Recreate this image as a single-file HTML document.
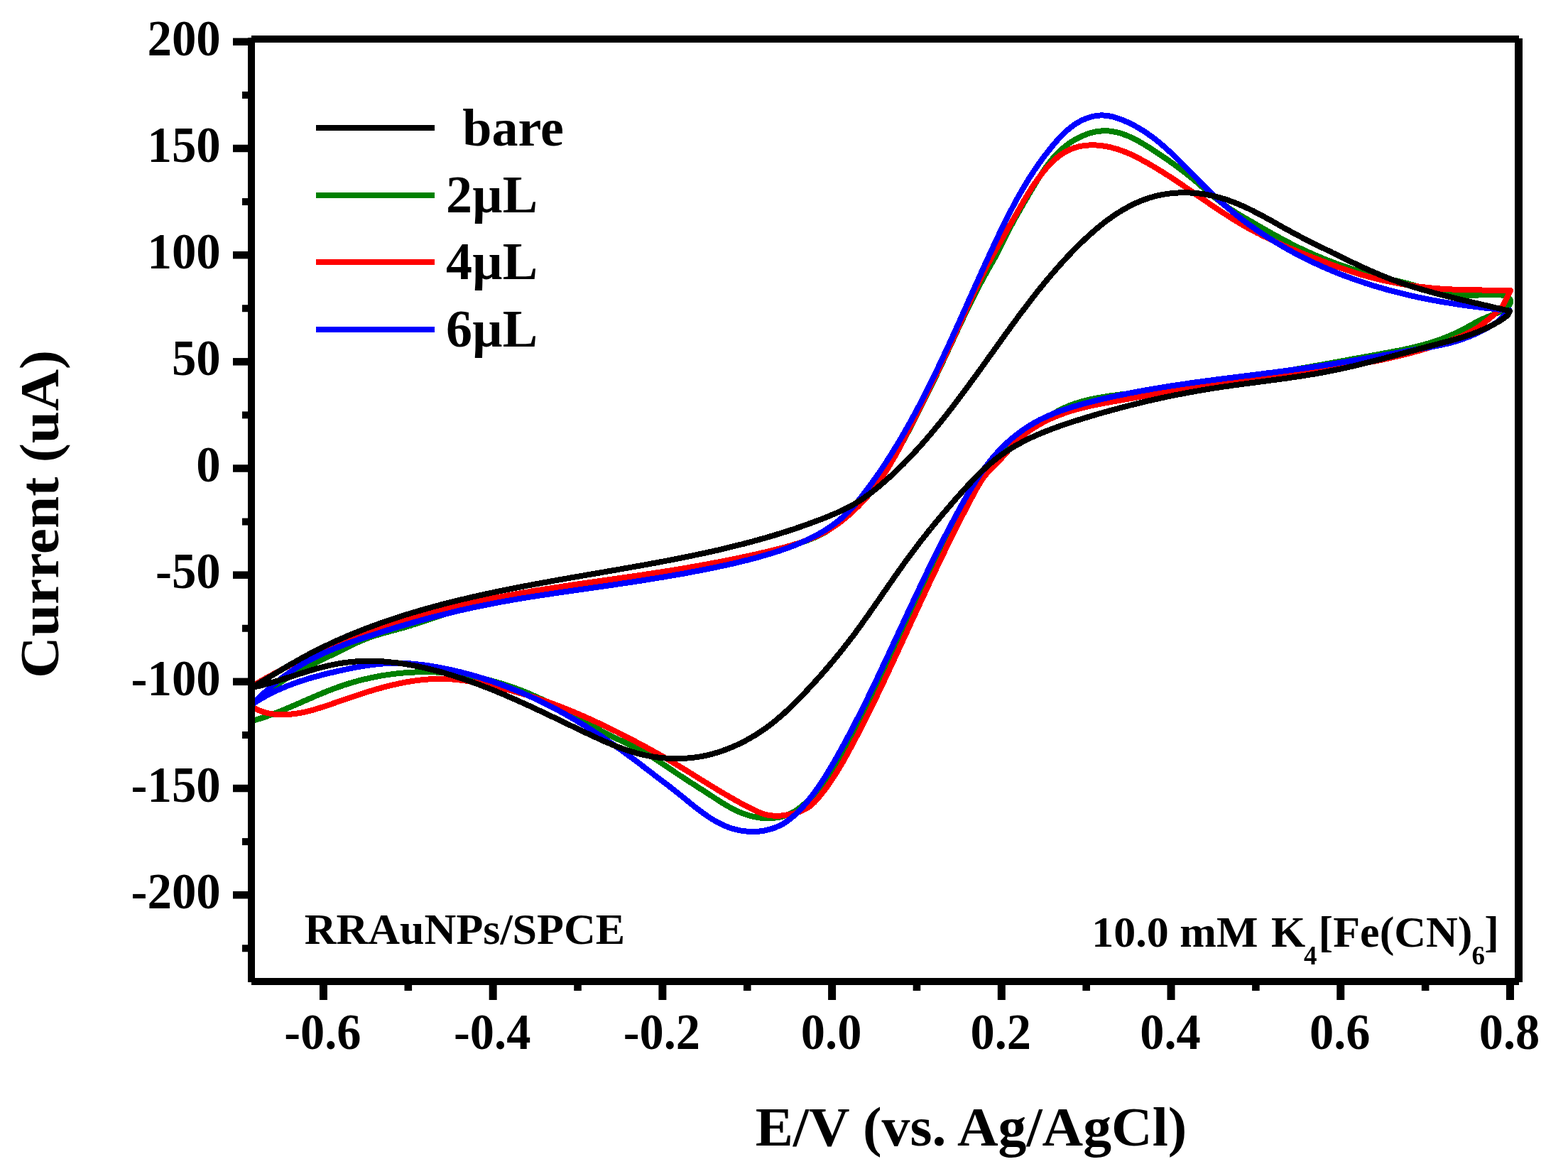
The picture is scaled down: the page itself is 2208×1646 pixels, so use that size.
<!DOCTYPE html>
<html><head><meta charset="utf-8"><title>CV plot</title>
<style>html,body{margin:0;padding:0;background:#fff;}svg{display:block;}</style>
</head><body>
<svg xmlns="http://www.w3.org/2000/svg" width="2208" height="1646" viewBox="0 0 2208 1646">
<rect x="0" y="0" width="2208" height="1646" fill="#fff"/>
<defs><clipPath id="pc"><rect x="354" y="55" width="1785" height="1327"/></clipPath></defs>
<g clip-path="url(#pc)" fill="none" stroke-width="8" stroke-linejoin="round" stroke-linecap="butt" shape-rendering="crispEdges">
<path d="M355.0,992.0L356.8,990.2L358.7,988.5L360.5,986.8L362.4,985.1L364.3,983.4L366.2,981.8L368.1,980.2L370.1,978.6L372.0,977.0L374.0,975.5L376.0,973.9L378.0,972.4L380.0,970.9L382.0,969.5L384.1,968.0L386.1,966.6L388.2,965.2L390.2,963.8L392.3,962.4L394.4,961.1L396.5,959.7L398.6,958.4L400.7,957.1L402.9,955.8L405.0,954.5L407.2,953.2L409.3,952.0L411.5,950.7L413.7,949.5L415.8,948.3L418.0,947.1L420.2,945.9L422.4,944.7L424.6,943.5L426.8,942.3L429.1,941.2L431.3,940.0L433.5,938.9L435.7,937.7L438.0,936.6L440.2,935.5L442.5,934.3L444.7,933.2L447.0,932.1L449.2,931.0L451.5,929.9L453.7,928.8L456.0,927.7L458.2,926.6L460.5,925.5L462.7,924.4L465.0,923.3L467.3,922.2L469.5,921.1L471.8,920.0L474.0,918.8L476.3,917.7L478.5,916.6L480.8,915.5L483.0,914.4L485.3,913.3L487.5,912.2L489.8,911.1L492.0,909.9L494.3,908.9L496.6,907.8L498.8,906.7L501.1,905.6L503.4,904.6L505.6,903.6L507.9,902.6L510.2,901.6L512.5,900.7L514.8,899.7L517.2,898.8L519.5,897.9L521.8,897.1L524.2,896.3L526.5,895.5L528.9,894.7L531.3,894.0L533.7,893.3L536.1,892.6L538.5,891.9L540.9,891.2L543.3,890.6L545.7,889.9L548.1,889.3L550.5,888.6L553.0,888.0L555.4,887.3L557.8,886.7L560.2,886.0L562.6,885.3L565.0,884.7L567.5,884.0L569.9,883.2L572.3,882.5L574.7,881.8L577.1,881.1L579.5,880.3L581.8,879.5L584.2,878.8L586.6,878.0L589.0,877.2L591.4,876.4L593.8,875.6L596.2,874.9L598.5,874.1L600.9,873.3L603.3,872.5L605.7,871.7L608.1,870.9L610.5,870.1L612.8,869.3L615.2,868.5L617.6,867.7L620.0,866.9L622.4,866.1L624.7,865.3L627.1,864.5L629.5,863.8L631.9,863.0L634.3,862.3L636.7,861.5L639.1,860.8L641.5,860.0L643.9,859.3L646.3,858.6L648.7,857.9L651.1,857.3L653.5,856.6L655.9,855.9L658.3,855.3L660.8,854.6L663.2,854.0L665.6,853.4L668.0,852.7L670.4,852.1L672.9,851.5L675.3,850.9L677.7,850.4L680.2,849.8L682.6,849.2L685.0,848.7L687.5,848.1L689.9,847.6L692.4,847.0L694.8,846.5L697.2,846.0L699.7,845.5L702.1,845.0L704.6,844.5L707.0,844.0L709.5,843.5L711.9,843.0L714.4,842.5L716.9,842.1L719.3,841.6L721.8,841.1L724.2,840.7L726.7,840.2L729.2,839.8L731.6,839.4L734.1,838.9L736.6,838.5L739.0,838.1L741.5,837.7L744.0,837.2L746.4,836.8L748.9,836.4L751.4,836.0L753.8,835.6L756.3,835.2L758.8,834.8L761.3,834.5L763.7,834.1L766.2,833.7L768.7,833.3L771.2,832.9L773.7,832.6L776.1,832.2L778.6,831.8L781.1,831.4L783.6,831.1L786.0,830.7L788.5,830.3L791.0,830.0L793.5,829.6L796.0,829.3L798.4,828.9L800.9,828.5L803.4,828.2L805.9,827.8L808.4,827.5L810.8,827.1L813.3,826.8L815.8,826.4L818.3,826.1L820.8,825.7L823.2,825.3L825.7,825.0L828.2,824.6L830.7,824.3L833.2,823.9L835.7,823.6L838.1,823.2L840.6,822.9L843.1,822.5L845.6,822.2L848.1,821.8L850.5,821.4L853.0,821.1L855.5,820.7L858.0,820.4L860.5,820.0L862.9,819.7L865.4,819.3L867.9,818.9L870.4,818.6L872.8,818.2L875.3,817.9L877.8,817.5L880.3,817.1L882.8,816.8L885.2,816.4L887.7,816.1L890.2,815.7L892.7,815.3L895.1,814.9L897.6,814.6L900.1,814.2L902.6,813.8L905.0,813.5L907.5,813.1L910.0,812.7L912.5,812.3L914.9,812.0L917.4,811.6L919.9,811.2L922.4,810.8L924.8,810.4L927.3,810.0L929.8,809.6L932.3,809.2L934.7,808.9L937.2,808.5L939.7,808.1L942.1,807.7L944.6,807.3L947.1,806.8L949.6,806.4L952.0,806.0L954.5,805.6L957.0,805.2L959.4,804.8L961.9,804.4L964.4,804.0L966.8,803.5L969.3,803.1L971.8,802.7L974.2,802.2L976.7,801.8L979.1,801.4L981.6,800.9L984.1,800.5L986.5,800.0L989.0,799.6L991.4,799.1L993.9,798.7L996.4,798.2L998.8,797.7L1001.3,797.3L1003.7,796.8L1006.2,796.3L1008.6,795.8L1011.1,795.3L1013.5,794.8L1016.0,794.3L1018.4,793.8L1020.9,793.3L1023.3,792.8L1025.8,792.3L1028.2,791.8L1030.7,791.2L1033.1,790.7L1035.6,790.1L1038.0,789.6L1040.5,789.0L1042.9,788.5L1045.3,787.9L1047.8,787.3L1050.2,786.8L1052.6,786.2L1055.1,785.6L1057.5,785.0L1059.9,784.4L1062.4,783.8L1064.8,783.2L1067.2,782.5L1069.6,781.9L1072.1,781.3L1074.5,780.6L1076.9,780.0L1079.3,779.3L1081.7,778.6L1084.2,778.0L1086.6,777.3L1089.0,776.6L1091.4,775.9L1093.8,775.2L1096.2,774.4L1098.6,773.7L1101.0,773.0L1103.4,772.2L1105.8,771.5L1108.2,770.7L1110.6,770.0L1113.0,769.2L1115.4,768.4L1117.8,767.6L1120.2,766.8L1122.6,766.0L1125.0,765.1L1127.3,764.3L1129.7,763.5L1132.1,762.6L1134.5,761.7L1136.9,760.9L1139.2,760.0L1141.6,759.1L1143.9,758.1L1146.3,757.2L1148.6,756.2L1150.9,755.2L1153.2,754.1L1155.4,753.0L1157.6,751.9L1159.8,750.7L1162.0,749.5L1164.1,748.2L1166.1,746.8L1168.2,745.4L1170.2,744.0L1172.1,742.5L1174.0,740.9L1175.8,739.2L1177.7,737.6L1179.5,735.8L1181.3,734.1L1183.0,732.3L1184.8,730.6L1186.6,728.8L1188.3,727.0L1190.1,725.2L1191.9,723.5L1193.7,721.7L1195.6,719.9L1197.4,718.2L1199.2,716.4L1201.0,714.7L1202.8,712.9L1204.7,711.2L1206.5,709.4L1208.3,707.6L1210.1,705.9L1211.9,704.1L1213.7,702.3L1215.5,700.5L1217.2,698.7L1219.0,696.9L1220.7,695.1L1222.4,693.2L1224.1,691.4L1225.8,689.5L1227.4,687.6L1229.1,685.7L1230.7,683.8L1232.3,681.9L1233.9,680.0L1235.4,678.0L1236.9,676.0L1238.5,674.0L1240.0,672.1L1241.4,670.0L1242.9,668.0L1244.3,666.0L1245.8,664.0L1247.2,661.9L1248.6,659.8L1250.0,657.8L1251.3,655.7L1252.7,653.6L1254.0,651.5L1255.4,649.4L1256.7,647.3L1258.0,645.1L1259.3,643.0L1260.6,640.8L1261.8,638.7L1263.1,636.5L1264.4,634.4L1265.6,632.2L1266.8,630.0L1268.1,627.8L1269.3,625.7L1270.5,623.5L1271.7,621.3L1272.9,619.1L1274.1,616.9L1275.2,614.6L1276.4,612.4L1277.6,610.2L1278.8,608.0L1279.9,605.8L1281.1,603.6L1282.2,601.3L1283.4,599.1L1284.5,596.9L1285.7,594.7L1286.8,592.4L1288.0,590.2L1289.1,588.0L1290.3,585.7L1291.4,583.5L1292.5,581.3L1293.7,579.0L1294.8,576.8L1295.9,574.6L1297.1,572.3L1298.2,570.1L1299.3,567.9L1300.4,565.6L1301.5,563.4L1302.7,561.1L1303.8,558.9L1304.9,556.6L1306.0,554.4L1307.1,552.2L1308.2,549.9L1309.3,547.7L1310.4,545.4L1311.5,543.2L1312.6,540.9L1313.7,538.7L1314.8,536.4L1315.9,534.1L1317.0,531.9L1318.0,529.6L1319.1,527.4L1320.2,525.1L1321.3,522.9L1322.4,520.6L1323.4,518.3L1324.5,516.1L1325.6,513.8L1326.6,511.5L1327.7,509.3L1328.8,507.0L1329.8,504.7L1330.9,502.5L1332.0,500.2L1333.0,497.9L1334.1,495.6L1335.1,493.4L1336.2,491.1L1337.2,488.8L1338.3,486.6L1339.4,484.3L1340.4,482.0L1341.5,479.7L1342.5,477.5L1343.6,475.2L1344.6,472.9L1345.7,470.6L1346.7,468.4L1347.8,466.1L1348.9,463.8L1349.9,461.6L1351.0,459.3L1352.1,457.0L1353.1,454.7L1354.2,452.5L1355.3,450.2L1356.3,448.0L1357.4,445.7L1358.5,443.4L1359.6,441.2L1360.7,438.9L1361.7,436.7L1362.8,434.4L1363.9,432.2L1365.0,429.9L1366.1,427.7L1367.2,425.4L1368.4,423.2L1369.5,420.9L1370.6,418.7L1371.7,416.5L1372.8,414.2L1374.0,412.0L1375.1,409.8L1376.3,407.6L1377.4,405.3L1378.6,403.1L1379.7,400.9L1380.9,398.7L1382.1,396.5L1383.3,394.3L1384.4,392.1L1385.6,389.9L1386.8,387.7L1388.1,385.5L1389.3,383.3L1390.5,381.2L1391.7,379.0L1393.0,376.8L1394.2,374.7L1395.5,372.5L1396.7,370.3L1397.9,368.2L1399.2,366.0L1400.4,363.8L1401.6,361.6L1402.7,359.4L1403.9,357.2L1405.0,355.0L1406.1,352.8L1407.2,350.5L1408.3,348.3L1409.4,346.1L1410.5,343.8L1411.6,341.6L1412.7,339.3L1413.8,337.1L1414.9,334.9L1416.0,332.6L1417.2,330.4L1418.3,328.2L1419.5,326.0L1420.6,323.8L1421.8,321.6L1423.0,319.3L1424.2,317.1L1425.4,314.9L1426.6,312.7L1427.8,310.5L1429.0,308.3L1430.2,306.1L1431.4,303.9L1432.7,301.8L1433.9,299.6L1435.1,297.4L1436.4,295.2L1437.6,293.0L1438.9,290.8L1440.2,288.7L1441.4,286.5L1442.7,284.3L1443.9,282.1L1445.2,280.0L1446.5,277.8L1447.8,275.6L1449.0,273.4L1450.3,271.3L1451.6,269.1L1452.9,267.0L1454.2,264.8L1455.5,262.6L1456.8,260.5L1458.1,258.3L1459.4,256.2L1460.7,254.0L1462.0,251.9L1463.3,249.8L1464.7,247.7L1466.0,245.6L1467.4,243.5L1468.8,241.4L1470.2,239.4L1471.6,237.3L1473.0,235.3L1474.5,233.3L1476.0,231.3L1477.5,229.3L1479.0,227.4L1480.5,225.5L1482.1,223.6L1483.7,221.7L1485.4,219.9L1487.1,218.1L1488.8,216.3L1490.5,214.5L1492.3,212.8L1494.1,211.1L1495.9,209.5L1497.8,207.8L1499.8,206.2L1501.7,204.7L1503.7,203.2L1505.8,201.7L1507.9,200.3L1510.1,198.9L1512.3,197.5L1514.5,196.2L1516.8,195.0L1519.1,193.8L1521.4,192.7L1523.8,191.6L1526.2,190.6L1528.6,189.6L1531.0,188.7L1533.4,187.9L1535.9,187.2L1538.4,186.5L1540.8,186.0L1543.3,185.4L1545.8,185.0L1548.2,184.7L1550.7,184.5L1553.2,184.3L1555.6,184.3L1558.1,184.3L1560.5,184.4L1562.9,184.6L1565.3,184.9L1567.7,185.3L1570.1,185.8L1572.5,186.3L1574.8,186.9L1577.2,187.5L1579.5,188.2L1581.8,189.0L1584.2,189.9L1586.5,190.8L1588.8,191.7L1591.1,192.7L1593.4,193.7L1595.6,194.8L1597.9,196.0L1600.1,197.1L1602.4,198.3L1604.6,199.6L1606.8,200.8L1609.0,202.1L1611.2,203.4L1613.4,204.7L1615.6,206.1L1617.8,207.5L1619.9,208.8L1622.1,210.2L1624.2,211.6L1626.3,213.0L1628.4,214.4L1630.6,215.8L1632.7,217.2L1634.7,218.6L1636.8,220.0L1638.9,221.4L1640.9,222.8L1643.0,224.2L1645.0,225.6L1647.1,227.1L1649.1,228.5L1651.1,229.9L1653.1,231.4L1655.1,232.8L1657.1,234.3L1659.1,235.7L1661.1,237.2L1663.1,238.7L1665.0,240.2L1667.0,241.7L1668.9,243.2L1670.9,244.8L1672.8,246.3L1674.8,247.9L1676.7,249.4L1678.6,251.0L1680.5,252.6L1682.4,254.2L1684.4,255.8L1686.3,257.5L1688.2,259.1L1690.1,260.7L1692.0,262.4L1693.9,264.0L1695.8,265.6L1697.7,267.3L1699.6,268.9L1701.6,270.5L1703.5,272.2L1705.4,273.8L1707.4,275.4L1709.3,277.0L1711.2,278.6L1713.2,280.2L1715.2,281.7L1717.2,283.3L1719.2,284.8L1721.2,286.3L1723.2,287.8L1725.2,289.3L1727.3,290.7L1729.3,292.2L1731.4,293.6L1733.5,295.0L1735.6,296.3L1737.7,297.7L1739.8,299.0L1741.9,300.3L1744.1,301.6L1746.2,302.9L1748.4,304.1L1750.5,305.4L1752.7,306.7L1754.9,307.9L1757.0,309.2L1759.2,310.4L1761.4,311.7L1763.5,312.9L1765.7,314.2L1767.8,315.4L1770.0,316.7L1772.2,317.9L1774.3,319.2L1776.5,320.4L1778.7,321.7L1780.8,322.9L1783.0,324.1L1785.2,325.4L1787.3,326.6L1789.5,327.8L1791.7,329.1L1793.9,330.3L1796.0,331.5L1798.2,332.7L1800.4,333.9L1802.6,335.1L1804.8,336.3L1807.0,337.5L1809.2,338.6L1811.4,339.8L1813.6,341.0L1815.8,342.1L1818.0,343.3L1820.3,344.4L1822.5,345.5L1824.8,346.7L1827.0,347.8L1829.3,348.9L1831.5,349.9L1833.8,351.0L1836.0,352.1L1838.3,353.1L1840.6,354.2L1842.9,355.2L1845.2,356.3L1847.5,357.3L1849.8,358.3L1852.1,359.3L1854.4,360.3L1856.7,361.3L1859.0,362.2L1861.3,363.2L1863.7,364.1L1866.0,365.1L1868.3,366.0L1870.7,366.9L1873.0,367.8L1875.3,368.7L1877.7,369.6L1880.0,370.5L1882.4,371.4L1884.8,372.2L1887.1,373.1L1889.5,373.9L1891.8,374.7L1894.2,375.6L1896.6,376.4L1899.0,377.2L1901.3,377.9L1903.7,378.7L1906.1,379.5L1908.5,380.2L1910.9,381.0L1913.3,381.7L1915.7,382.4L1918.0,383.1L1920.4,383.8L1922.8,384.5L1925.2,385.2L1927.6,385.9L1930.0,386.5L1932.4,387.2L1934.8,387.8L1937.2,388.4L1939.6,389.0L1942.0,389.6L1944.5,390.2L1946.9,390.8L1949.3,391.4L1951.7,391.9L1954.1,392.5L1956.5,393.1L1958.9,393.6L1961.3,394.2L1963.8,394.8L1966.2,395.3L1968.6,395.9L1971.1,396.5L1973.5,397.1L1975.9,397.7L1978.4,398.3L1980.8,398.9L1983.3,399.6L1985.7,400.2L1988.2,400.9L1990.7,401.6L1993.1,402.3L1995.6,403.0L1998.1,403.7L2000.5,404.4L2003.0,405.1L2005.4,405.8L2007.9,406.5L2010.3,407.2L2012.7,407.8L2015.1,408.4L2017.5,409.0L2019.9,409.6L2022.3,410.2L2024.6,410.7L2027.0,411.2L2029.4,411.7L2031.8,412.2L2034.2,412.6L2036.6,413.1L2039.0,413.5L2041.4,413.8L2043.8,414.2L2046.2,414.5L2048.7,414.8L2051.1,415.0L2053.6,415.2L2056.1,415.4L2058.6,415.6L2061.1,415.7L2063.7,415.8L2066.2,415.9L2068.9,415.9L2071.5,415.9L2074.1,415.9L2076.8,415.8L2079.6,415.7L2082.3,415.5L2085.1,415.4L2087.8,415.2L2090.6,415.0L2093.4,414.9L2096.1,414.7L2098.8,414.6L2101.5,414.6L2104.1,414.6L2106.6,414.7L2109.1,414.8L2111.4,415.0L2113.7,415.4L2115.9,415.8L2118.0,416.4L2119.9,417.1L2121.7,417.9L2123.4,418.9L2124.9,420.1L2126.1,421.5L2126.9,423.2L2127.0,425.5L2126.1,428.3L2124.0,432.0L2118.0,436.0L2115.8,437.2L2113.6,438.4L2111.3,439.4L2109.0,440.5L2106.7,441.5L2104.4,442.4L2102.1,443.3L2099.8,444.3L2097.5,445.2L2095.1,446.1L2092.8,447.0L2090.5,448.0L2088.3,449.0L2086.0,450.0L2083.8,451.1L2081.6,452.2L2079.4,453.4L2077.2,454.5L2075.0,455.8L2072.8,457.0L2070.6,458.2L2068.5,459.4L2066.3,460.6L2064.0,461.8L2061.8,463.0L2059.6,464.1L2057.4,465.3L2055.1,466.4L2052.9,467.5L2050.6,468.6L2048.3,469.7L2046.0,470.7L2043.8,471.7L2041.5,472.7L2039.1,473.7L2036.8,474.7L2034.5,475.6L2032.2,476.5L2029.8,477.4L2027.5,478.2L2025.1,479.1L2022.8,479.9L2020.4,480.7L2018.1,481.4L2015.7,482.2L2013.3,482.9L2010.9,483.6L2008.5,484.3L2006.1,485.0L2003.7,485.7L2001.3,486.3L1998.9,487.0L1996.5,487.6L1994.0,488.2L1991.6,488.8L1989.2,489.3L1986.7,489.9L1984.3,490.5L1981.8,491.0L1979.4,491.5L1977.0,492.1L1974.5,492.6L1972.0,493.1L1969.6,493.6L1967.1,494.1L1964.7,494.5L1962.2,495.0L1959.7,495.5L1957.3,496.0L1954.8,496.4L1952.3,496.9L1949.9,497.3L1947.4,497.8L1944.9,498.2L1942.4,498.7L1940.0,499.1L1937.5,499.6L1935.0,500.0L1932.6,500.5L1930.1,500.9L1927.6,501.4L1925.1,501.8L1922.7,502.3L1920.2,502.7L1917.7,503.2L1915.3,503.6L1912.8,504.1L1910.3,504.5L1907.9,505.0L1905.4,505.4L1902.9,505.9L1900.5,506.3L1898.0,506.8L1895.5,507.2L1893.0,507.7L1890.6,508.1L1888.1,508.6L1885.6,509.0L1883.2,509.5L1880.7,509.9L1878.2,510.4L1875.8,510.8L1873.3,511.3L1870.8,511.7L1868.4,512.2L1865.9,512.6L1863.4,513.0L1861.0,513.5L1858.5,513.9L1856.0,514.4L1853.6,514.8L1851.1,515.2L1848.6,515.7L1846.2,516.1L1843.7,516.6L1841.2,517.0L1838.8,517.4L1836.3,517.9L1833.8,518.3L1831.3,518.7L1828.9,519.1L1826.4,519.6L1823.9,520.0L1821.5,520.4L1819.0,520.9L1816.5,521.3L1814.1,521.7L1811.6,522.1L1809.1,522.6L1806.7,523.0L1804.2,523.4L1801.7,523.8L1799.3,524.2L1796.8,524.6L1794.3,525.0L1791.8,525.5L1789.4,525.9L1786.9,526.3L1784.4,526.7L1782.0,527.1L1779.5,527.5L1777.0,527.9L1774.6,528.3L1772.1,528.7L1769.6,529.1L1767.1,529.5L1764.7,529.9L1762.2,530.3L1759.7,530.7L1757.3,531.0L1754.8,531.4L1752.3,531.8L1749.8,532.2L1747.4,532.6L1744.9,533.0L1742.4,533.3L1740.0,533.7L1737.5,534.1L1735.0,534.5L1732.5,534.8L1730.1,535.2L1727.6,535.6L1725.1,535.9L1722.6,536.3L1720.2,536.6L1717.7,537.0L1715.2,537.3L1712.7,537.7L1710.3,538.1L1707.8,538.4L1705.3,538.7L1702.8,539.1L1700.3,539.4L1697.9,539.8L1695.4,540.1L1692.9,540.5L1690.4,540.8L1687.9,541.2L1685.5,541.5L1683.0,541.8L1680.5,542.2L1678.0,542.5L1675.5,542.8L1673.1,543.2L1670.6,543.5L1668.1,543.8L1665.6,544.2L1663.1,544.5L1660.7,544.8L1658.2,545.1L1655.7,545.5L1653.2,545.8L1650.7,546.1L1648.2,546.4L1645.7,546.8L1643.3,547.1L1640.8,547.4L1638.3,547.7L1635.8,548.0L1633.3,548.4L1630.8,548.7L1628.3,549.0L1625.8,549.3L1623.4,549.7L1620.9,550.0L1618.4,550.3L1615.9,550.6L1613.4,550.9L1610.9,551.3L1608.4,551.6L1605.9,551.9L1603.4,552.2L1600.9,552.5L1598.4,552.9L1596.0,553.2L1593.5,553.5L1591.0,553.8L1588.5,554.1L1586.0,554.5L1583.5,554.8L1581.0,555.1L1578.5,555.4L1576.0,555.7L1573.5,556.1L1571.0,556.4L1568.5,556.7L1566.0,557.1L1563.5,557.4L1561.0,557.8L1558.5,558.2L1556.1,558.5L1553.6,558.9L1551.1,559.3L1548.6,559.8L1546.2,560.2L1543.7,560.7L1541.3,561.1L1538.8,561.6L1536.4,562.1L1533.9,562.7L1531.5,563.2L1529.1,563.8L1526.7,564.4L1524.3,565.1L1521.9,565.7L1519.5,566.4L1517.2,567.2L1514.8,567.9L1512.5,568.7L1510.1,569.6L1507.8,570.4L1505.5,571.3L1503.2,572.3L1500.9,573.3L1498.7,574.3L1496.4,575.4L1494.2,576.5L1491.9,577.6L1489.7,578.8L1487.5,580.0L1485.3,581.2L1483.1,582.4L1481.0,583.7L1478.8,585.0L1476.6,586.3L1474.5,587.7L1472.3,589.0L1470.2,590.4L1468.0,591.7L1465.9,593.1L1463.8,594.4L1461.6,595.8L1459.5,597.2L1457.4,598.6L1455.2,600.0L1453.1,601.4L1451.0,602.8L1448.9,604.2L1446.8,605.6L1444.8,607.0L1442.7,608.5L1440.7,610.0L1438.6,611.4L1436.6,612.9L1434.6,614.5L1432.6,616.0L1430.7,617.5L1428.7,619.1L1426.8,620.7L1424.9,622.4L1423.1,624.0L1421.2,625.7L1419.4,627.4L1417.6,629.1L1415.8,630.8L1414.0,632.6L1412.3,634.4L1410.6,636.1L1408.9,638.0L1407.2,639.8L1405.5,641.6L1403.8,643.5L1402.2,645.4L1400.6,647.3L1399.0,649.2L1397.4,651.1L1395.8,653.1L1394.3,655.1L1392.8,657.0L1391.2,659.0L1389.7,661.0L1388.2,663.0L1386.8,665.1L1385.3,667.1L1383.9,669.1L1382.4,671.2L1381.0,673.3L1379.6,675.4L1378.2,677.4L1376.8,679.5L1375.4,681.6L1374.1,683.8L1372.7,685.9L1371.4,688.0L1370.1,690.1L1368.7,692.3L1367.4,694.4L1366.1,696.6L1364.8,698.7L1363.6,700.9L1362.3,703.1L1361.0,705.2L1359.8,707.4L1358.5,709.6L1357.3,711.7L1356.0,713.9L1354.8,716.1L1353.6,718.3L1352.4,720.5L1351.2,722.7L1350.0,724.9L1348.8,727.1L1347.6,729.3L1346.4,731.5L1345.3,733.7L1344.1,735.9L1343.0,738.2L1341.8,740.4L1340.7,742.6L1339.5,744.8L1338.4,747.1L1337.3,749.3L1336.1,751.5L1335.0,753.8L1333.9,756.0L1332.8,758.3L1331.7,760.5L1330.6,762.7L1329.5,765.0L1328.4,767.2L1327.3,769.5L1326.2,771.8L1325.2,774.0L1324.1,776.3L1323.0,778.5L1322.0,780.8L1320.9,783.1L1319.8,785.3L1318.8,787.6L1317.7,789.9L1316.7,792.1L1315.6,794.4L1314.6,796.7L1313.5,799.0L1312.5,801.2L1311.4,803.5L1310.4,805.8L1309.4,808.1L1308.3,810.4L1307.3,812.6L1306.3,814.9L1305.2,817.2L1304.2,819.5L1303.2,821.8L1302.1,824.1L1301.1,826.3L1300.1,828.6L1299.0,830.9L1298.0,833.2L1297.0,835.5L1295.9,837.8L1294.9,840.0L1293.9,842.3L1292.8,844.6L1291.8,846.9L1290.8,849.2L1289.7,851.5L1288.7,853.8L1287.7,856.0L1286.6,858.3L1285.6,860.6L1284.6,862.9L1283.5,865.2L1282.5,867.5L1281.4,869.7L1280.4,872.0L1279.4,874.3L1278.3,876.6L1277.3,878.9L1276.2,881.1L1275.2,883.4L1274.1,885.7L1273.1,888.0L1272.0,890.3L1271.0,892.5L1269.9,894.8L1268.9,897.1L1267.8,899.4L1266.8,901.7L1265.7,903.9L1264.7,906.2L1263.6,908.5L1262.6,910.8L1261.5,913.0L1260.4,915.3L1259.4,917.6L1258.3,919.9L1257.2,922.1L1256.2,924.4L1255.1,926.7L1254.0,928.9L1253.0,931.2L1251.9,933.5L1250.8,935.7L1249.7,938.0L1248.7,940.3L1247.6,942.5L1246.5,944.8L1245.4,947.0L1244.3,949.3L1243.2,951.6L1242.1,953.8L1241.1,956.1L1240.0,958.3L1238.9,960.6L1237.8,962.8L1236.7,965.1L1235.6,967.3L1234.5,969.6L1233.4,971.8L1232.3,974.1L1231.1,976.3L1230.0,978.6L1228.9,980.8L1227.8,983.1L1226.7,985.3L1225.6,987.6L1224.4,989.8L1223.3,992.0L1222.2,994.3L1221.1,996.5L1219.9,998.7L1218.8,1001.0L1217.7,1003.2L1216.5,1005.4L1215.4,1007.7L1214.2,1009.9L1213.1,1012.1L1212.0,1014.3L1210.8,1016.5L1209.7,1018.8L1208.5,1021.0L1207.3,1023.2L1206.2,1025.4L1205.0,1027.6L1203.9,1029.8L1202.7,1032.1L1201.5,1034.3L1200.3,1036.5L1199.2,1038.7L1198.0,1040.9L1196.8,1043.1L1195.6,1045.3L1194.4,1047.4L1193.2,1049.6L1192.0,1051.8L1190.7,1054.0L1189.5,1056.2L1188.3,1058.3L1187.0,1060.5L1185.8,1062.6L1184.5,1064.8L1183.2,1066.9L1182.0,1069.1L1180.7,1071.2L1179.3,1073.3L1178.0,1075.4L1176.7,1077.5L1175.4,1079.6L1174.0,1081.7L1172.6,1083.8L1171.2,1085.9L1169.8,1088.0L1168.4,1090.0L1167.0,1092.1L1165.5,1094.1L1164.1,1096.1L1162.6,1098.1L1161.1,1100.2L1159.6,1102.1L1158.0,1104.1L1156.5,1106.1L1154.9,1108.1L1153.3,1110.0L1151.7,1111.9L1150.1,1113.9L1148.4,1115.8L1146.8,1117.7L1145.1,1119.5L1143.3,1121.4L1141.6,1123.3L1139.8,1125.1L1138.0,1126.9L1136.2,1128.7L1134.4,1130.4L1132.5,1132.2L1130.6,1133.8L1128.7,1135.4L1126.7,1137.0L1124.7,1138.5L1122.7,1140.0L1120.6,1141.3L1118.5,1142.6L1116.4,1143.9L1114.2,1145.0L1112.0,1146.1L1109.7,1147.0L1107.4,1147.9L1105.1,1148.7L1102.7,1149.4L1100.4,1150.0L1097.9,1150.6L1095.5,1151.0L1093.1,1151.4L1090.6,1151.7L1088.1,1152.0L1085.6,1152.1L1083.1,1152.2L1080.6,1152.2L1078.1,1152.1L1075.6,1152.0L1073.1,1151.8L1070.5,1151.5L1068.0,1151.1L1065.5,1150.7L1063.1,1150.3L1060.6,1149.7L1058.2,1149.1L1055.7,1148.5L1053.3,1147.8L1050.9,1147.0L1048.6,1146.2L1046.2,1145.3L1043.9,1144.4L1041.6,1143.5L1039.3,1142.5L1037.1,1141.4L1034.8,1140.3L1032.6,1139.2L1030.4,1138.1L1028.2,1136.9L1026.0,1135.7L1023.8,1134.4L1021.6,1133.2L1019.5,1131.9L1017.3,1130.6L1015.2,1129.2L1013.0,1127.9L1010.9,1126.5L1008.8,1125.2L1006.7,1123.8L1004.6,1122.4L1002.5,1121.0L1000.4,1119.7L998.3,1118.3L996.2,1116.9L994.0,1115.5L991.9,1114.2L989.8,1112.8L987.7,1111.4L985.6,1110.1L983.5,1108.8L981.4,1107.4L979.3,1106.1L977.2,1104.7L975.1,1103.4L973.0,1102.0L970.9,1100.7L968.8,1099.3L966.7,1098.0L964.6,1096.6L962.5,1095.3L960.4,1093.9L958.3,1092.5L956.2,1091.2L954.2,1089.8L952.1,1088.4L950.0,1087.0L948.0,1085.6L945.9,1084.2L943.8,1082.7L941.7,1081.3L939.7,1079.9L937.6,1078.5L935.5,1077.1L933.5,1075.7L931.4,1074.3L929.3,1072.9L927.2,1071.5L925.1,1070.1L923.0,1068.7L920.9,1067.4L918.8,1066.1L916.6,1064.7L914.5,1063.4L912.3,1062.2L910.2,1060.9L908.0,1059.7L905.8,1058.4L903.6,1057.2L901.4,1056.1L899.2,1054.9L896.9,1053.8L894.7,1052.6L892.5,1051.5L890.2,1050.4L887.9,1049.3L885.7,1048.3L883.4,1047.2L881.2,1046.1L878.9,1045.0L876.6,1044.0L874.4,1042.9L872.1,1041.8L869.8,1040.7L867.6,1039.6L865.3,1038.5L863.0,1037.4L860.8,1036.3L858.6,1035.2L856.3,1034.1L854.1,1032.9L851.9,1031.8L849.6,1030.6L847.4,1029.5L845.2,1028.3L843.0,1027.1L840.8,1026.0L838.6,1024.8L836.4,1023.6L834.2,1022.4L832.0,1021.2L829.8,1020.0L827.6,1018.8L825.4,1017.6L823.2,1016.4L821.0,1015.2L818.8,1014.0L816.6,1012.8L814.4,1011.6L812.2,1010.4L810.0,1009.2L807.8,1008.0L805.6,1006.8L803.4,1005.6L801.2,1004.4L799.0,1003.2L796.8,1002.0L794.6,1000.8L792.4,999.6L790.2,998.4L788.0,997.3L785.8,996.1L783.6,995.0L781.4,993.8L779.2,992.7L776.9,991.5L774.7,990.4L772.5,989.3L770.2,988.2L768.0,987.1L765.7,986.0L763.5,984.9L761.2,983.8L759.0,982.8L756.7,981.7L754.4,980.7L752.1,979.7L749.8,978.7L747.5,977.7L745.2,976.7L742.9,975.7L740.6,974.8L738.3,973.8L735.9,972.9L733.6,972.0L731.3,971.1L728.9,970.2L726.6,969.4L724.2,968.5L721.8,967.7L719.5,966.9L717.1,966.0L714.7,965.3L712.3,964.5L709.9,963.7L707.5,963.0L705.1,962.2L702.7,961.5L700.3,960.8L697.9,960.1L695.5,959.4L693.1,958.8L690.6,958.1L688.2,957.5L685.8,956.9L683.3,956.3L680.9,955.7L678.5,955.2L676.0,954.6L673.6,954.1L671.1,953.6L668.6,953.1L666.2,952.6L663.7,952.1L661.2,951.7L658.8,951.3L656.3,950.9L653.8,950.5L651.4,950.1L648.9,949.7L646.4,949.4L643.9,949.1L641.4,948.7L638.9,948.5L636.5,948.2L634.0,947.9L631.5,947.7L629.0,947.5L626.5,947.3L624.0,947.1L621.5,946.9L619.0,946.8L616.5,946.6L614.0,946.5L611.5,946.4L609.0,946.3L606.5,946.3L604.0,946.2L601.5,946.2L599.0,946.2L596.5,946.2L594.0,946.2L591.5,946.3L589.0,946.3L586.5,946.4L584.0,946.5L581.5,946.6L579.0,946.7L576.5,946.9L574.0,947.0L571.5,947.2L569.0,947.4L566.6,947.6L564.1,947.9L561.6,948.1L559.1,948.4L556.6,948.7L554.1,949.0L551.6,949.3L549.2,949.6L546.7,950.0L544.2,950.3L541.7,950.7L539.3,951.1L536.8,951.5L534.3,952.0L531.9,952.4L529.4,952.9L527.0,953.4L524.5,953.9L522.1,954.4L519.6,954.9L517.2,955.5L514.7,956.0L512.3,956.6L509.9,957.2L507.5,957.8L505.0,958.5L502.6,959.1L500.2,959.8L497.8,960.5L495.4,961.2L493.0,961.9L490.6,962.6L488.2,963.4L485.8,964.2L483.4,964.9L481.1,965.8L478.7,966.6L476.3,967.4L474.0,968.3L471.6,969.1L469.2,970.0L466.9,970.9L464.6,971.8L462.2,972.7L459.9,973.6L457.6,974.6L455.2,975.5L452.9,976.5L450.6,977.5L448.3,978.4L445.9,979.4L443.6,980.4L441.3,981.4L439.0,982.4L436.7,983.4L434.4,984.4L432.1,985.4L429.8,986.4L427.5,987.4L425.2,988.5L422.9,989.5L420.6,990.5L418.3,991.5L415.9,992.5L413.6,993.5L411.3,994.5L409.0,995.5L406.7,996.5L404.4,997.4L402.1,998.4L399.8,999.4L397.4,1000.3L395.1,1001.3L392.8,1002.2L390.5,1003.1L388.1,1004.0L385.8,1004.9L383.5,1005.8L381.1,1006.7L378.8,1007.5L376.4,1008.3L374.1,1009.2L371.7,1010.0L369.3,1010.7L367.0,1011.5L364.6,1012.2L362.2,1013.0L359.8,1013.7L357.4,1014.3L355.0,1015.0Z" stroke="#008000"/>
<path d="M355.0,966.0L357.2,964.8L359.3,963.5L361.5,962.3L363.7,961.1L365.9,959.8L368.0,958.6L370.2,957.4L372.4,956.2L374.6,954.9L376.8,953.7L379.0,952.5L381.2,951.3L383.3,950.1L385.5,948.9L387.7,947.7L389.9,946.5L392.1,945.3L394.3,944.1L396.6,942.9L398.8,941.7L401.0,940.5L403.2,939.3L405.4,938.1L407.6,937.0L409.8,935.8L412.1,934.6L414.3,933.5L416.5,932.3L418.7,931.2L421.0,930.1L423.2,928.9L425.5,927.8L427.7,926.7L430.0,925.6L432.2,924.5L434.5,923.4L436.7,922.3L439.0,921.2L441.2,920.1L443.5,919.0L445.8,918.0L448.0,916.9L450.3,915.9L452.6,914.8L454.9,913.8L457.2,912.8L459.5,911.8L461.8,910.8L464.1,909.8L466.4,908.8L468.7,907.9L471.0,906.9L473.3,906.0L475.6,905.0L477.9,904.1L480.3,903.2L482.6,902.3L484.9,901.4L487.3,900.5L489.6,899.6L491.9,898.7L494.3,897.9L496.6,897.0L499.0,896.2L501.4,895.4L503.7,894.5L506.1,893.7L508.5,892.9L510.8,892.1L513.2,891.3L515.6,890.5L517.9,889.8L520.3,889.0L522.7,888.2L525.1,887.5L527.5,886.7L529.9,886.0L532.3,885.2L534.6,884.5L537.0,883.7L539.4,883.0L541.8,882.3L544.2,881.5L546.6,880.8L549.0,880.1L551.4,879.4L553.8,878.6L556.2,877.9L558.6,877.2L561.0,876.5L563.4,875.8L565.8,875.1L568.2,874.4L570.6,873.7L573.0,873.0L575.5,872.3L577.9,871.6L580.3,870.8L582.7,870.2L585.1,869.5L587.5,868.8L589.9,868.1L592.3,867.4L594.7,866.7L597.1,866.0L599.5,865.3L601.9,864.6L604.4,864.0L606.8,863.3L609.2,862.6L611.6,862.0L614.0,861.3L616.4,860.7L618.9,860.0L621.3,859.4L623.7,858.7L626.1,858.1L628.5,857.4L631.0,856.8L633.4,856.2L635.8,855.6L638.2,855.0L640.7,854.4L643.1,853.8L645.5,853.2L648.0,852.6L650.4,852.0L652.8,851.4L655.3,850.9L657.7,850.3L660.1,849.7L662.6,849.2L665.0,848.6L667.5,848.1L669.9,847.5L672.4,847.0L674.8,846.5L677.2,845.9L679.7,845.4L682.1,844.9L684.6,844.4L687.0,843.9L689.5,843.4L691.9,842.9L694.4,842.4L696.8,841.9L699.3,841.4L701.8,841.0L704.2,840.5L706.7,840.0L709.1,839.5L711.6,839.1L714.1,838.6L716.5,838.2L719.0,837.7L721.4,837.3L723.9,836.8L726.4,836.4L728.8,835.9L731.3,835.5L733.8,835.1L736.2,834.6L738.7,834.2L741.2,833.8L743.6,833.4L746.1,833.0L748.6,832.5L751.0,832.1L753.5,831.7L756.0,831.3L758.5,830.9L760.9,830.5L763.4,830.1L765.9,829.7L768.4,829.3L770.8,828.9L773.3,828.6L775.8,828.2L778.3,827.8L780.7,827.4L783.2,827.0L785.7,826.7L788.2,826.3L790.6,825.9L793.1,825.5L795.6,825.2L798.1,824.8L800.6,824.4L803.0,824.1L805.5,823.7L808.0,823.3L810.5,823.0L812.9,822.6L815.4,822.2L817.9,821.9L820.4,821.5L822.9,821.2L825.4,820.8L827.8,820.5L830.3,820.1L832.8,819.7L835.3,819.4L837.8,819.0L840.2,818.7L842.7,818.3L845.2,818.0L847.7,817.6L850.2,817.3L852.6,816.9L855.1,816.6L857.6,816.2L860.1,815.9L862.6,815.5L865.0,815.2L867.5,814.8L870.0,814.4L872.5,814.1L875.0,813.7L877.4,813.4L879.9,813.0L882.4,812.7L884.9,812.3L887.4,811.9L889.8,811.6L892.3,811.2L894.8,810.9L897.3,810.5L899.7,810.1L902.2,809.8L904.7,809.4L907.2,809.0L909.6,808.7L912.1,808.3L914.6,807.9L917.1,807.5L919.5,807.2L922.0,806.8L924.5,806.4L927.0,806.0L929.4,805.6L931.9,805.2L934.4,804.9L936.8,804.5L939.3,804.1L941.8,803.7L944.2,803.3L946.7,802.9L949.2,802.5L951.6,802.1L954.1,801.7L956.6,801.3L959.0,800.9L961.5,800.4L964.0,800.0L966.4,799.6L968.9,799.2L971.4,798.8L973.8,798.3L976.3,797.9L978.8,797.5L981.2,797.0L983.7,796.6L986.1,796.2L988.6,795.7L991.1,795.3L993.5,794.8L996.0,794.4L998.4,793.9L1000.9,793.5L1003.4,793.0L1005.8,792.5L1008.3,792.1L1010.7,791.6L1013.2,791.1L1015.7,790.6L1018.1,790.2L1020.6,789.7L1023.0,789.2L1025.5,788.7L1028.0,788.2L1030.4,787.7L1032.9,787.2L1035.3,786.7L1037.8,786.2L1040.2,785.7L1042.7,785.2L1045.2,784.6L1047.6,784.1L1050.1,783.6L1052.5,783.1L1055.0,782.5L1057.4,782.0L1059.9,781.5L1062.4,780.9L1064.8,780.4L1067.3,779.8L1069.7,779.2L1072.2,778.7L1074.6,778.1L1077.1,777.5L1079.6,777.0L1082.0,776.4L1084.5,775.8L1086.9,775.2L1089.4,774.6L1091.8,774.0L1094.3,773.4L1096.7,772.8L1099.2,772.2L1101.6,771.5L1104.1,770.9L1106.5,770.2L1108.9,769.5L1111.3,768.8L1113.7,768.1L1116.2,767.4L1118.6,766.7L1120.9,765.9L1123.3,765.2L1125.7,764.4L1128.1,763.6L1130.4,762.8L1132.8,761.9L1135.1,761.1L1137.4,760.2L1139.8,759.3L1142.1,758.3L1144.4,757.4L1146.6,756.4L1148.9,755.4L1151.2,754.4L1153.4,753.3L1155.6,752.2L1157.8,751.1L1160.0,749.9L1162.2,748.8L1164.3,747.6L1166.5,746.3L1168.6,745.0L1170.7,743.7L1172.8,742.4L1174.9,741.0L1176.9,739.6L1179.0,738.2L1181.0,736.7L1183.0,735.2L1185.0,733.7L1186.9,732.2L1188.9,730.6L1190.8,729.0L1192.7,727.4L1194.7,725.7L1196.5,724.1L1198.4,722.4L1200.3,720.7L1202.1,719.0L1204.0,717.3L1205.8,715.5L1207.6,713.8L1209.4,712.0L1211.1,710.2L1212.9,708.3L1214.6,706.5L1216.3,704.7L1218.0,702.8L1219.7,700.9L1221.4,699.0L1223.0,697.1L1224.6,695.2L1226.2,693.2L1227.8,691.3L1229.4,689.3L1230.9,687.3L1232.5,685.3L1234.0,683.3L1235.5,681.3L1236.9,679.3L1238.4,677.2L1239.8,675.2L1241.2,673.1L1242.6,671.1L1244.0,669.0L1245.4,666.9L1246.7,664.8L1248.1,662.7L1249.4,660.6L1250.7,658.5L1252.0,656.3L1253.3,654.2L1254.6,652.1L1255.8,649.9L1257.1,647.7L1258.3,645.6L1259.6,643.4L1260.8,641.2L1262.0,639.0L1263.2,636.9L1264.4,634.7L1265.6,632.5L1266.8,630.3L1267.9,628.0L1269.1,625.8L1270.3,623.6L1271.4,621.4L1272.6,619.2L1273.7,617.0L1274.9,614.7L1276.0,612.5L1277.1,610.3L1278.3,608.0L1279.4,605.8L1280.5,603.6L1281.6,601.3L1282.8,599.1L1283.9,596.9L1285.0,594.6L1286.1,592.4L1287.3,590.1L1288.4,587.9L1289.5,585.7L1290.6,583.4L1291.8,581.2L1292.9,579.0L1294.0,576.7L1295.1,574.5L1296.2,572.2L1297.4,570.0L1298.5,567.8L1299.6,565.5L1300.7,563.3L1301.8,561.0L1302.9,558.8L1304.0,556.5L1305.1,554.3L1306.3,552.1L1307.4,549.8L1308.5,547.6L1309.6,545.3L1310.7,543.1L1311.8,540.8L1312.9,538.6L1314.0,536.3L1315.1,534.1L1316.2,531.8L1317.3,529.6L1318.4,527.3L1319.5,525.1L1320.5,522.8L1321.6,520.6L1322.7,518.3L1323.8,516.0L1324.9,513.8L1326.0,511.5L1327.0,509.3L1328.1,507.0L1329.2,504.7L1330.3,502.5L1331.4,500.2L1332.4,498.0L1333.5,495.7L1334.6,493.4L1335.6,491.2L1336.7,488.9L1337.7,486.6L1338.8,484.3L1339.9,482.1L1340.9,479.8L1342.0,477.5L1343.0,475.2L1344.1,473.0L1345.1,470.7L1346.1,468.4L1347.2,466.1L1348.2,463.8L1349.3,461.6L1350.3,459.3L1351.3,457.0L1352.3,454.7L1353.4,452.4L1354.4,450.1L1355.4,447.8L1356.4,445.6L1357.5,443.3L1358.5,441.0L1359.5,438.7L1360.5,436.4L1361.6,434.1L1362.6,431.8L1363.6,429.5L1364.7,427.3L1365.7,425.0L1366.7,422.7L1367.8,420.4L1368.8,418.1L1369.9,415.9L1370.9,413.6L1372.0,411.3L1373.0,409.0L1374.1,406.8L1375.1,404.5L1376.2,402.2L1377.3,400.0L1378.3,397.7L1379.4,395.5L1380.5,393.2L1381.6,391.0L1382.7,388.7L1383.8,386.5L1384.9,384.3L1386.1,382.0L1387.2,379.8L1388.3,377.6L1389.5,375.4L1390.6,373.1L1391.8,370.9L1393.0,368.7L1394.1,366.5L1395.3,364.3L1396.5,362.1L1397.7,359.9L1398.9,357.8L1400.1,355.6L1401.3,353.4L1402.6,351.2L1403.8,349.0L1405.0,346.9L1406.2,344.7L1407.5,342.5L1408.7,340.4L1409.9,338.2L1411.2,336.0L1412.4,333.9L1413.7,331.7L1414.9,329.5L1416.2,327.4L1417.4,325.2L1418.7,323.0L1419.9,320.9L1421.2,318.7L1422.4,316.5L1423.7,314.4L1424.9,312.2L1426.2,310.0L1427.4,307.8L1428.7,305.7L1429.9,303.5L1431.2,301.3L1432.4,299.1L1433.7,296.9L1434.9,294.8L1436.1,292.6L1437.4,290.4L1438.6,288.2L1439.9,286.1L1441.2,283.9L1442.4,281.7L1443.7,279.5L1445.0,277.4L1446.3,275.2L1447.6,273.1L1448.9,270.9L1450.2,268.8L1451.6,266.7L1452.9,264.6L1454.3,262.5L1455.7,260.4L1457.1,258.3L1458.5,256.2L1460.0,254.2L1461.4,252.1L1462.9,250.1L1464.4,248.1L1465.9,246.1L1467.5,244.1L1469.1,242.1L1470.7,240.2L1472.3,238.2L1473.9,236.3L1475.6,234.4L1477.3,232.5L1479.1,230.7L1480.9,228.9L1482.7,227.2L1484.5,225.4L1486.4,223.8L1488.3,222.2L1490.3,220.6L1492.3,219.1L1494.3,217.6L1496.4,216.3L1498.4,214.9L1500.6,213.7L1502.7,212.5L1504.9,211.4L1507.1,210.4L1509.4,209.5L1511.7,208.6L1514.0,207.9L1516.3,207.2L1518.6,206.6L1521.0,206.0L1523.4,205.6L1525.8,205.2L1528.2,204.9L1530.7,204.6L1533.1,204.5L1535.6,204.3L1538.1,204.3L1540.5,204.3L1543.0,204.4L1545.5,204.6L1548.0,204.8L1550.5,205.1L1553.0,205.4L1555.5,205.8L1558.0,206.2L1560.5,206.7L1563.0,207.2L1565.5,207.8L1567.9,208.5L1570.4,209.1L1572.8,209.9L1575.3,210.6L1577.7,211.5L1580.1,212.3L1582.4,213.2L1584.8,214.1L1587.1,215.1L1589.5,216.1L1591.8,217.1L1594.1,218.2L1596.3,219.3L1598.6,220.4L1600.8,221.5L1603.1,222.6L1605.3,223.8L1607.5,225.0L1609.7,226.2L1611.9,227.4L1614.1,228.6L1616.3,229.8L1618.4,231.1L1620.6,232.3L1622.7,233.6L1624.9,234.8L1627.0,236.1L1629.1,237.4L1631.2,238.7L1633.4,240.0L1635.5,241.3L1637.6,242.6L1639.7,244.0L1641.8,245.3L1643.9,246.6L1646.0,248.0L1648.1,249.3L1650.2,250.7L1652.2,252.1L1654.3,253.4L1656.4,254.8L1658.5,256.2L1660.5,257.6L1662.6,259.0L1664.7,260.4L1666.7,261.8L1668.8,263.2L1670.9,264.6L1672.9,266.0L1675.0,267.5L1677.1,268.9L1679.1,270.3L1681.2,271.7L1683.3,273.1L1685.3,274.6L1687.4,276.0L1689.4,277.4L1691.5,278.8L1693.6,280.3L1695.6,281.7L1697.7,283.1L1699.8,284.5L1701.8,285.9L1703.9,287.3L1706.0,288.7L1708.0,290.2L1710.1,291.6L1712.2,292.9L1714.3,294.3L1716.4,295.7L1718.5,297.1L1720.6,298.5L1722.7,299.9L1724.8,301.2L1726.9,302.6L1729.0,303.9L1731.1,305.3L1733.2,306.6L1735.3,307.9L1737.4,309.3L1739.6,310.6L1741.7,311.9L1743.9,313.1L1746.0,314.4L1748.2,315.7L1750.3,317.0L1752.5,318.2L1754.7,319.4L1756.8,320.7L1759.0,321.9L1761.2,323.1L1763.4,324.3L1765.6,325.4L1767.8,326.6L1770.0,327.8L1772.3,328.9L1774.5,330.0L1776.7,331.2L1779.0,332.3L1781.2,333.4L1783.5,334.5L1785.7,335.6L1788.0,336.7L1790.2,337.7L1792.5,338.8L1794.8,339.9L1797.0,340.9L1799.3,341.9L1801.6,343.0L1803.9,344.0L1806.2,345.0L1808.5,346.0L1810.8,347.0L1813.1,348.0L1815.4,349.0L1817.7,350.0L1820.0,350.9L1822.3,351.9L1824.6,352.9L1826.9,353.8L1829.3,354.8L1831.6,355.7L1833.9,356.7L1836.2,357.6L1838.6,358.5L1840.9,359.5L1843.2,360.4L1845.6,361.3L1847.9,362.2L1850.2,363.1L1852.6,364.0L1854.9,365.0L1857.3,365.9L1859.6,366.8L1861.9,367.6L1864.3,368.5L1866.6,369.4L1869.0,370.3L1871.3,371.2L1873.7,372.1L1876.0,373.0L1878.4,373.8L1880.7,374.7L1883.1,375.6L1885.4,376.4L1887.8,377.3L1890.1,378.1L1892.5,378.9L1894.9,379.7L1897.2,380.5L1899.6,381.3L1902.0,382.1L1904.4,382.9L1906.8,383.7L1909.1,384.4L1911.5,385.1L1913.9,385.9L1916.3,386.6L1918.7,387.3L1921.1,388.0L1923.5,388.6L1926.0,389.3L1928.4,389.9L1930.8,390.6L1933.2,391.2L1935.6,391.8L1938.1,392.4L1940.5,393.0L1942.9,393.6L1945.4,394.2L1947.8,394.7L1950.2,395.2L1952.7,395.8L1955.1,396.3L1957.6,396.8L1960.0,397.3L1962.5,397.8L1965.0,398.3L1967.4,398.7L1969.9,399.2L1972.3,399.6L1974.8,400.0L1977.3,400.5L1979.8,400.9L1982.2,401.3L1984.7,401.6L1987.2,402.0L1989.7,402.4L1992.1,402.7L1994.6,403.0L1997.1,403.4L1999.6,403.7L2002.1,404.0L2004.6,404.3L2007.1,404.6L2009.5,404.8L2012.0,405.1L2014.5,405.4L2017.0,405.6L2019.5,405.8L2022.0,406.0L2024.5,406.2L2027.0,406.4L2029.5,406.6L2032.0,406.8L2034.5,407.0L2037.0,407.1L2039.5,407.3L2042.0,407.4L2044.5,407.5L2047.0,407.6L2049.5,407.7L2052.0,407.8L2054.5,407.9L2057.0,408.0L2059.5,408.0L2062.0,408.1L2064.6,408.2L2067.1,408.2L2069.6,408.3L2072.1,408.3L2074.6,408.3L2077.1,408.4L2079.6,408.4L2082.1,408.4L2084.6,408.4L2087.1,408.5L2089.6,408.5L2092.1,408.5L2094.6,408.5L2097.1,408.5L2099.6,408.6L2102.1,408.6L2104.6,408.6L2107.1,408.6L2109.6,408.7L2112.1,408.7L2114.6,408.7L2117.0,408.8L2119.5,408.8L2122.0,408.9L2124.5,408.9L2127.0,409.0L2115.1,433.3L2113.2,434.9L2111.3,436.5L2109.4,438.1L2107.5,439.8L2105.6,441.4L2103.7,443.1L2101.8,444.7L2099.9,446.4L2098.0,448.0L2096.1,449.6L2094.1,451.2L2092.2,452.8L2090.3,454.4L2088.3,455.9L2086.3,457.4L2084.3,458.9L2082.2,460.3L2080.1,461.7L2078.0,463.0L2075.9,464.3L2073.7,465.5L2071.6,466.8L2069.4,467.9L2067.1,469.0L2064.9,470.1L2062.6,471.2L2060.3,472.2L2058.1,473.3L2055.7,474.2L2053.4,475.2L2051.1,476.1L2048.8,477.0L2046.4,477.9L2044.0,478.8L2041.7,479.7L2039.3,480.6L2037.0,481.4L2034.6,482.2L2032.2,483.1L2029.8,483.9L2027.5,484.7L2025.1,485.5L2022.7,486.3L2020.3,487.0L2017.9,487.8L2015.5,488.6L2013.1,489.3L2010.7,490.0L2008.3,490.8L2005.9,491.5L2003.5,492.2L2001.1,492.9L1998.7,493.6L1996.3,494.3L1993.9,494.9L1991.5,495.6L1989.1,496.2L1986.7,496.9L1984.2,497.5L1981.8,498.2L1979.4,498.8L1977.0,499.4L1974.5,500.0L1972.1,500.6L1969.7,501.2L1967.2,501.8L1964.8,502.3L1962.4,502.9L1959.9,503.5L1957.5,504.0L1955.0,504.6L1952.6,505.1L1950.2,505.6L1947.7,506.1L1945.3,506.7L1942.8,507.2L1940.4,507.7L1937.9,508.2L1935.5,508.7L1933.0,509.1L1930.6,509.6L1928.1,510.1L1925.6,510.6L1923.2,511.0L1920.7,511.5L1918.3,511.9L1915.8,512.4L1913.3,512.8L1910.9,513.2L1908.4,513.6L1905.9,514.1L1903.5,514.5L1901.0,514.9L1898.5,515.3L1896.1,515.7L1893.6,516.1L1891.1,516.5L1888.7,516.9L1886.2,517.3L1883.7,517.7L1881.2,518.0L1878.8,518.4L1876.3,518.8L1873.8,519.1L1871.3,519.5L1868.8,519.9L1866.4,520.2L1863.9,520.6L1861.4,520.9L1858.9,521.3L1856.4,521.6L1854.0,522.0L1851.5,522.3L1849.0,522.6L1846.5,523.0L1844.0,523.3L1841.5,523.6L1839.1,524.0L1836.6,524.3L1834.1,524.6L1831.6,524.9L1829.1,525.3L1826.6,525.6L1824.1,525.9L1821.7,526.2L1819.2,526.5L1816.7,526.9L1814.2,527.2L1811.7,527.5L1809.2,527.8L1806.7,528.1L1804.3,528.4L1801.8,528.7L1799.3,529.1L1796.8,529.4L1794.3,529.7L1791.8,530.0L1789.3,530.3L1786.8,530.6L1784.4,531.0L1781.9,531.3L1779.4,531.6L1776.9,531.9L1774.4,532.2L1771.9,532.5L1769.4,532.9L1766.9,533.2L1764.5,533.5L1762.0,533.8L1759.5,534.2L1757.0,534.5L1754.5,534.8L1752.0,535.2L1749.6,535.5L1747.1,535.9L1744.6,536.2L1742.1,536.5L1739.6,536.9L1737.2,537.2L1734.7,537.6L1732.2,538.0L1729.7,538.3L1727.2,538.7L1724.8,539.0L1722.3,539.4L1719.8,539.8L1717.3,540.2L1714.9,540.5L1712.4,540.9L1709.9,541.3L1707.4,541.7L1705.0,542.0L1702.5,542.4L1700.0,542.8L1697.5,543.2L1695.1,543.6L1692.6,544.0L1690.1,544.4L1687.7,544.8L1685.2,545.2L1682.7,545.6L1680.2,546.0L1677.8,546.4L1675.3,546.8L1672.8,547.2L1670.4,547.6L1667.9,548.0L1665.4,548.4L1663.0,548.9L1660.5,549.3L1658.0,549.7L1655.5,550.1L1653.1,550.5L1650.6,550.9L1648.1,551.4L1645.7,551.8L1643.2,552.2L1640.7,552.6L1638.3,553.1L1635.8,553.5L1633.3,553.9L1630.9,554.3L1628.4,554.8L1625.9,555.2L1623.5,555.6L1621.0,556.0L1618.5,556.5L1616.0,556.9L1613.6,557.3L1611.1,557.8L1608.6,558.2L1606.2,558.6L1603.7,559.1L1601.2,559.5L1598.8,559.9L1596.3,560.4L1593.8,560.8L1591.3,561.2L1588.9,561.6L1586.4,562.1L1583.9,562.5L1581.5,562.9L1579.0,563.4L1576.5,563.8L1574.0,564.2L1571.6,564.7L1569.1,565.1L1566.6,565.5L1564.2,566.0L1561.7,566.4L1559.2,566.9L1556.8,567.3L1554.3,567.8L1551.8,568.2L1549.4,568.7L1546.9,569.2L1544.5,569.7L1542.0,570.2L1539.6,570.7L1537.1,571.2L1534.7,571.8L1532.2,572.3L1529.8,572.9L1527.4,573.5L1525.0,574.1L1522.6,574.7L1520.1,575.3L1517.7,576.0L1515.3,576.6L1512.9,577.3L1510.5,578.0L1508.2,578.7L1505.8,579.5L1503.4,580.2L1501.1,581.0L1498.7,581.8L1496.4,582.7L1494.0,583.5L1491.7,584.4L1489.4,585.3L1487.1,586.2L1484.8,587.2L1482.5,588.2L1480.2,589.2L1477.9,590.3L1475.6,591.4L1473.4,592.5L1471.1,593.6L1468.9,594.8L1466.7,596.0L1464.4,597.2L1462.2,598.5L1460.1,599.8L1457.9,601.1L1455.7,602.5L1453.6,603.9L1451.5,605.3L1449.4,606.8L1447.4,608.3L1445.3,609.8L1443.3,611.3L1441.3,612.9L1439.4,614.5L1437.5,616.2L1435.6,617.8L1433.7,619.5L1431.9,621.2L1430.1,623.0L1428.4,624.7L1426.7,626.5L1425.0,628.4L1423.4,630.2L1421.8,632.0L1420.2,633.9L1418.6,635.8L1417.0,637.6L1415.3,639.5L1413.7,641.4L1412.1,643.2L1410.4,645.1L1408.7,646.9L1407.0,648.7L1405.2,650.5L1403.4,652.3L1401.6,654.1L1399.8,655.9L1398.0,657.7L1396.2,659.5L1394.4,661.3L1392.7,663.1L1391.0,665.0L1389.3,666.9L1387.8,668.8L1386.2,670.8L1384.7,672.8L1383.3,674.9L1381.9,676.9L1380.6,679.0L1379.3,681.2L1378.0,683.3L1376.7,685.4L1375.5,687.6L1374.3,689.8L1373.1,692.0L1371.9,694.2L1370.7,696.4L1369.6,698.6L1368.4,700.8L1367.2,703.0L1366.1,705.2L1364.9,707.4L1363.7,709.7L1362.6,711.9L1361.4,714.1L1360.3,716.3L1359.1,718.5L1358.0,720.8L1356.8,723.0L1355.7,725.2L1354.5,727.4L1353.4,729.7L1352.3,731.9L1351.1,734.1L1350.0,736.4L1348.9,738.6L1347.7,740.8L1346.6,743.1L1345.5,745.3L1344.4,747.5L1343.2,749.8L1342.1,752.0L1341.0,754.3L1339.9,756.5L1338.8,758.7L1337.7,761.0L1336.6,763.2L1335.5,765.5L1334.3,767.7L1333.2,770.0L1332.1,772.2L1331.0,774.5L1330.0,776.7L1328.9,779.0L1327.8,781.3L1326.7,783.5L1325.6,785.8L1324.5,788.0L1323.4,790.3L1322.3,792.5L1321.2,794.8L1320.2,797.1L1319.1,799.3L1318.0,801.6L1316.9,803.9L1315.8,806.1L1314.8,808.4L1313.7,810.7L1312.6,812.9L1311.5,815.2L1310.5,817.5L1309.4,819.7L1308.3,822.0L1307.3,824.3L1306.2,826.5L1305.1,828.8L1304.1,831.1L1303.0,833.3L1302.0,835.6L1300.9,837.9L1299.8,840.2L1298.8,842.4L1297.7,844.7L1296.7,847.0L1295.6,849.2L1294.6,851.5L1293.5,853.8L1292.5,856.1L1291.4,858.3L1290.4,860.6L1289.3,862.9L1288.3,865.2L1287.2,867.4L1286.2,869.7L1285.1,872.0L1284.1,874.3L1283.0,876.5L1282.0,878.8L1280.9,881.1L1279.9,883.4L1278.8,885.6L1277.8,887.9L1276.8,890.2L1275.7,892.5L1274.7,894.7L1273.6,897.0L1272.6,899.3L1271.5,901.5L1270.5,903.8L1269.4,906.1L1268.4,908.4L1267.3,910.6L1266.3,912.9L1265.2,915.2L1264.2,917.5L1263.1,919.7L1262.1,922.0L1261.0,924.3L1260.0,926.5L1258.9,928.8L1257.9,931.1L1256.8,933.3L1255.8,935.6L1254.7,937.9L1253.7,940.1L1252.6,942.4L1251.5,944.7L1250.5,946.9L1249.4,949.2L1248.4,951.5L1247.3,953.7L1246.2,956.0L1245.2,958.3L1244.1,960.5L1243.0,962.8L1241.9,965.0L1240.9,967.3L1239.8,969.6L1238.7,971.8L1237.6,974.1L1236.5,976.3L1235.5,978.6L1234.4,980.8L1233.3,983.1L1232.2,985.4L1231.1,987.6L1230.0,989.9L1228.9,992.1L1227.8,994.4L1226.7,996.6L1225.6,998.8L1224.5,1001.1L1223.4,1003.3L1222.2,1005.6L1221.1,1007.8L1220.0,1010.1L1218.9,1012.3L1217.8,1014.6L1216.6,1016.8L1215.5,1019.0L1214.4,1021.3L1213.2,1023.5L1212.1,1025.7L1210.9,1028.0L1209.8,1030.2L1208.6,1032.4L1207.5,1034.7L1206.3,1036.9L1205.2,1039.1L1204.0,1041.3L1202.8,1043.6L1201.6,1045.8L1200.5,1048.0L1199.3,1050.2L1198.1,1052.4L1196.9,1054.7L1195.7,1056.9L1194.5,1059.1L1193.3,1061.3L1192.1,1063.5L1190.9,1065.7L1189.7,1067.9L1188.4,1070.1L1187.2,1072.3L1185.9,1074.4L1184.7,1076.6L1183.4,1078.8L1182.1,1081.0L1180.8,1083.1L1179.5,1085.3L1178.2,1087.4L1176.9,1089.5L1175.5,1091.6L1174.2,1093.7L1172.8,1095.8L1171.4,1097.9L1170.0,1100.0L1168.6,1102.1L1167.2,1104.1L1165.7,1106.2L1164.3,1108.2L1162.8,1110.2L1161.3,1112.2L1159.8,1114.2L1158.2,1116.1L1156.7,1118.1L1155.1,1120.0L1153.5,1122.0L1151.9,1123.9L1150.2,1125.8L1148.6,1127.6L1146.9,1129.5L1145.1,1131.2L1143.3,1132.9L1141.4,1134.5L1139.4,1135.9L1137.4,1137.3L1135.3,1138.6L1133.1,1139.7L1130.9,1140.8L1128.6,1141.8L1126.3,1142.7L1124.0,1143.5L1121.6,1144.3L1119.1,1145.0L1116.7,1145.6L1114.2,1146.2L1111.7,1146.8L1109.1,1147.2L1106.6,1147.7L1104.1,1148.0L1101.5,1148.4L1099.0,1148.6L1096.4,1148.7L1093.9,1148.8L1091.4,1148.8L1088.9,1148.6L1086.4,1148.4L1083.9,1148.1L1081.5,1147.7L1079.1,1147.1L1076.7,1146.5L1074.4,1145.7L1072.0,1144.9L1069.7,1144.0L1067.4,1143.1L1065.1,1142.1L1062.9,1141.1L1060.6,1140.0L1058.4,1138.9L1056.1,1137.7L1053.9,1136.6L1051.7,1135.4L1049.4,1134.3L1047.2,1133.1L1045.0,1131.9L1042.8,1130.7L1040.6,1129.5L1038.4,1128.3L1036.2,1127.1L1034.0,1125.8L1031.9,1124.6L1029.7,1123.3L1027.5,1122.1L1025.3,1120.8L1023.2,1119.6L1021.0,1118.3L1018.9,1117.0L1016.7,1115.8L1014.5,1114.5L1012.4,1113.2L1010.2,1111.9L1008.1,1110.6L1006.0,1109.3L1003.8,1108.0L1001.7,1106.7L999.5,1105.4L997.4,1104.0L995.3,1102.7L993.1,1101.4L991.0,1100.1L988.9,1098.8L986.7,1097.5L984.6,1096.1L982.5,1094.8L980.4,1093.5L978.2,1092.2L976.1,1090.9L974.0,1089.6L971.8,1088.2L969.7,1086.9L967.6,1085.6L965.4,1084.3L963.3,1083.0L961.2,1081.7L959.0,1080.4L956.9,1079.1L954.7,1077.8L952.6,1076.5L950.4,1075.3L948.3,1074.0L946.1,1072.7L944.0,1071.4L941.8,1070.2L939.7,1068.9L937.5,1067.7L935.3,1066.4L933.2,1065.2L931.0,1063.9L928.8,1062.7L926.7,1061.5L924.5,1060.2L922.3,1059.0L920.1,1057.8L918.0,1056.6L915.8,1055.4L913.6,1054.2L911.4,1053.0L909.2,1051.8L907.0,1050.6L904.8,1049.4L902.6,1048.2L900.4,1047.0L898.2,1045.9L896.0,1044.7L893.8,1043.5L891.6,1042.4L889.4,1041.2L887.1,1040.0L884.9,1038.9L882.7,1037.7L880.5,1036.6L878.2,1035.5L876.0,1034.3L873.8,1033.2L871.5,1032.1L869.3,1030.9L867.1,1029.8L864.8,1028.7L862.6,1027.6L860.3,1026.5L858.1,1025.4L855.8,1024.3L853.5,1023.2L851.3,1022.1L849.0,1021.0L846.7,1019.9L844.5,1018.9L842.2,1017.8L839.9,1016.7L837.7,1015.7L835.4,1014.6L833.1,1013.6L830.8,1012.5L828.5,1011.5L826.2,1010.5L823.9,1009.5L821.6,1008.4L819.3,1007.4L817.0,1006.4L814.7,1005.4L812.4,1004.5L810.1,1003.5L807.8,1002.5L805.5,1001.5L803.2,1000.6L800.9,999.6L798.5,998.7L796.2,997.7L793.9,996.8L791.6,995.9L789.2,995.0L786.9,994.1L784.6,993.2L782.2,992.3L779.9,991.4L777.5,990.6L775.2,989.7L772.8,988.9L770.5,988.0L768.1,987.2L765.8,986.4L763.4,985.6L761.0,984.8L758.7,984.0L756.3,983.2L753.9,982.4L751.6,981.7L749.2,980.9L746.8,980.2L744.4,979.5L742.1,978.7L739.7,978.0L737.3,977.3L734.9,976.6L732.5,976.0L730.1,975.3L727.7,974.6L725.3,973.9L722.9,973.3L720.5,972.6L718.1,972.0L715.6,971.4L713.2,970.8L710.8,970.1L708.4,969.5L705.9,968.9L703.5,968.3L701.1,967.7L698.6,967.2L696.2,966.6L693.7,966.0L691.3,965.4L688.8,964.9L686.3,964.3L683.9,963.8L681.4,963.3L678.9,962.7L676.5,962.2L674.0,961.7L671.5,961.3L669.0,960.8L666.5,960.3L664.1,959.9L661.6,959.5L659.1,959.1L656.6,958.7L654.1,958.4L651.6,958.0L649.1,957.7L646.6,957.4L644.2,957.1L641.7,956.9L639.2,956.7L636.7,956.5L634.2,956.3L631.7,956.2L629.2,956.0L626.7,955.9L624.2,955.9L621.8,955.9L619.3,955.9L616.8,955.9L614.3,955.9L611.8,956.0L609.4,956.1L606.9,956.2L604.4,956.4L601.9,956.6L599.4,956.8L597.0,957.0L594.5,957.2L592.0,957.5L589.6,957.8L587.1,958.1L584.6,958.4L582.2,958.8L579.7,959.2L577.2,959.5L574.8,960.0L572.3,960.4L569.9,960.8L567.4,961.3L565.0,961.8L562.5,962.3L560.0,962.8L557.6,963.4L555.2,963.9L552.7,964.5L550.3,965.1L547.8,965.7L545.4,966.3L542.9,966.9L540.5,967.6L538.1,968.2L535.6,968.9L533.2,969.6L530.8,970.2L528.3,970.9L525.9,971.7L523.5,972.4L521.1,973.1L518.6,973.9L516.2,974.6L513.8,975.4L511.4,976.1L509.0,976.9L506.6,977.7L504.2,978.5L501.8,979.3L499.4,980.1L497.0,980.9L494.6,981.7L492.2,982.5L489.8,983.3L487.4,984.1L485.0,984.9L482.6,985.8L480.2,986.6L477.8,987.4L475.4,988.3L473.1,989.1L470.7,989.9L468.3,990.8L465.9,991.6L463.6,992.4L461.2,993.2L458.8,994.0L456.4,994.8L454.1,995.6L451.7,996.3L449.3,997.1L446.9,997.8L444.5,998.5L442.1,999.2L439.8,999.9L437.4,1000.5L435.0,1001.1L432.6,1001.7L430.2,1002.3L427.7,1002.8L425.3,1003.3L422.9,1003.8L420.5,1004.2L418.1,1004.6L415.6,1005.0L413.2,1005.3L410.7,1005.5L408.2,1005.8L405.8,1006.0L403.3,1006.1L400.8,1006.2L398.3,1006.3L395.8,1006.3L393.3,1006.2L390.8,1006.1L388.3,1005.9L385.8,1005.6L383.4,1005.3L380.9,1004.9L378.4,1004.4L376.0,1003.9L373.6,1003.3L371.2,1002.6L368.8,1001.8L366.4,1000.9L364.1,999.9L361.7,998.8L359.5,997.6L357.2,996.4L355.0,995.0Z" stroke="#ff0000"/>
<path d="M355.0,992.0L356.8,990.2L358.5,988.5L360.3,986.7L362.1,985.0L363.9,983.3L365.7,981.5L367.5,979.8L369.4,978.1L371.2,976.4L373.0,974.7L374.9,973.0L376.8,971.3L378.7,969.7L380.6,968.0L382.5,966.4L384.4,964.8L386.3,963.2L388.3,961.6L390.2,960.0L392.2,958.4L394.1,956.8L396.1,955.3L398.1,953.8L400.1,952.3L402.1,950.8L404.2,949.3L406.2,947.8L408.3,946.4L410.3,945.0L412.4,943.6L414.5,942.2L416.6,940.8L418.7,939.5L420.8,938.2L422.9,936.9L425.1,935.6L427.2,934.3L429.4,933.1L431.6,931.9L433.7,930.7L435.9,929.5L438.1,928.3L440.3,927.2L442.6,926.1L444.8,924.9L447.0,923.8L449.3,922.8L451.5,921.7L453.8,920.6L456.1,919.6L458.3,918.6L460.6,917.6L462.9,916.6L465.2,915.6L467.5,914.6L469.8,913.7L472.1,912.7L474.5,911.8L476.8,910.9L479.1,910.0L481.5,909.1L483.8,908.2L486.2,907.3L488.5,906.4L490.9,905.5L493.2,904.7L495.6,903.8L498.0,903.0L500.3,902.2L502.7,901.4L505.1,900.5L507.4,899.7L509.8,898.9L512.2,898.1L514.6,897.3L517.0,896.5L519.4,895.7L521.7,895.0L524.1,894.2L526.5,893.4L528.9,892.6L531.3,891.9L533.7,891.1L536.1,890.3L538.5,889.6L540.9,888.8L543.3,888.1L545.7,887.3L548.1,886.6L550.5,885.8L552.8,885.1L555.2,884.4L557.6,883.6L560.0,882.9L562.4,882.2L564.9,881.5L567.3,880.8L569.7,880.1L572.1,879.4L574.5,878.7L576.9,878.0L579.3,877.3L581.7,876.6L584.1,875.9L586.5,875.2L588.9,874.6L591.3,873.9L593.8,873.2L596.2,872.6L598.6,871.9L601.0,871.2L603.4,870.6L605.8,870.0L608.3,869.3L610.7,868.7L613.1,868.0L615.5,867.4L617.9,866.8L620.4,866.2L622.8,865.6L625.2,865.0L627.6,864.4L630.1,863.8L632.5,863.2L634.9,862.6L637.4,862.0L639.8,861.4L642.2,860.8L644.7,860.3L647.1,859.7L649.5,859.1L652.0,858.6L654.4,858.0L656.9,857.5L659.3,856.9L661.7,856.4L664.2,855.9L666.6,855.3L669.1,854.8L671.5,854.3L674.0,853.8L676.4,853.3L678.9,852.8L681.3,852.3L683.8,851.8L686.2,851.3L688.7,850.8L691.1,850.3L693.6,849.8L696.1,849.4L698.5,848.9L701.0,848.4L703.4,848.0L705.9,847.5L708.4,847.1L710.8,846.6L713.3,846.2L715.7,845.8L718.2,845.3L720.7,844.9L723.1,844.5L725.6,844.1L728.1,843.6L730.5,843.2L733.0,842.8L735.5,842.4L738.0,842.0L740.4,841.6L742.9,841.2L745.4,840.8L747.8,840.4L750.3,840.0L752.8,839.6L755.3,839.2L757.7,838.9L760.2,838.5L762.7,838.1L765.2,837.7L767.7,837.3L770.1,837.0L772.6,836.6L775.1,836.2L777.6,835.9L780.0,835.5L782.5,835.1L785.0,834.8L787.5,834.4L790.0,834.0L792.4,833.7L794.9,833.3L797.4,833.0L799.9,832.6L802.4,832.2L804.9,831.9L807.3,831.5L809.8,831.2L812.3,830.8L814.8,830.5L817.3,830.1L819.7,829.8L822.2,829.4L824.7,829.1L827.2,828.7L829.7,828.4L832.1,828.0L834.6,827.6L837.1,827.3L839.6,826.9L842.1,826.6L844.6,826.2L847.0,825.9L849.5,825.5L852.0,825.2L854.5,824.8L857.0,824.4L859.4,824.1L861.9,823.7L864.4,823.4L866.9,823.0L869.3,822.6L871.8,822.3L874.3,821.9L876.8,821.5L879.3,821.2L881.7,820.8L884.2,820.4L886.7,820.0L889.2,819.7L891.6,819.3L894.1,818.9L896.6,818.5L899.1,818.1L901.5,817.8L904.0,817.4L906.5,817.0L909.0,816.6L911.4,816.2L913.9,815.8L916.4,815.4L918.9,815.0L921.3,814.6L923.8,814.2L926.3,813.8L928.7,813.4L931.2,813.0L933.7,812.6L936.1,812.2L938.6,811.8L941.1,811.3L943.5,810.9L946.0,810.5L948.5,810.1L950.9,809.6L953.4,809.2L955.9,808.8L958.3,808.3L960.8,807.9L963.3,807.5L965.7,807.0L968.2,806.6L970.7,806.1L973.1,805.6L975.6,805.2L978.0,804.7L980.5,804.3L982.9,803.8L985.4,803.3L987.9,802.8L990.3,802.4L992.8,801.9L995.2,801.4L997.7,800.9L1000.1,800.4L1002.6,799.9L1005.0,799.4L1007.5,798.9L1009.9,798.4L1012.4,797.9L1014.8,797.3L1017.3,796.8L1019.7,796.3L1022.2,795.8L1024.6,795.2L1027.1,794.7L1029.5,794.1L1032.0,793.6L1034.4,793.0L1036.8,792.4L1039.3,791.9L1041.7,791.3L1044.2,790.7L1046.6,790.1L1049.0,789.5L1051.5,788.9L1053.9,788.3L1056.3,787.6L1058.7,787.0L1061.2,786.4L1063.6,785.7L1066.0,785.1L1068.4,784.4L1070.8,783.7L1073.2,783.0L1075.7,782.3L1078.1,781.6L1080.5,780.9L1082.9,780.2L1085.3,779.5L1087.7,778.8L1090.1,778.0L1092.5,777.2L1094.9,776.5L1097.3,775.7L1099.6,774.9L1102.0,774.1L1104.4,773.3L1106.7,772.4L1109.1,771.6L1111.5,770.7L1113.8,769.8L1116.2,768.9L1118.5,768.0L1120.8,767.1L1123.1,766.1L1125.4,765.2L1127.7,764.2L1130.0,763.2L1132.3,762.2L1134.6,761.1L1136.9,760.1L1139.1,759.0L1141.4,757.9L1143.6,756.8L1145.8,755.6L1148.1,754.4L1150.3,753.3L1152.5,752.1L1154.6,750.8L1156.8,749.6L1159.0,748.3L1161.1,747.0L1163.2,745.6L1165.3,744.3L1167.4,742.9L1169.5,741.5L1171.6,740.1L1173.6,738.6L1175.7,737.1L1177.7,735.6L1179.6,734.1L1181.6,732.5L1183.5,730.9L1185.4,729.3L1187.3,727.6L1189.2,726.0L1191.0,724.3L1192.8,722.5L1194.6,720.8L1196.3,719.0L1198.0,717.2L1199.8,715.3L1201.4,713.5L1203.1,711.6L1204.7,709.7L1206.4,707.8L1208.0,705.9L1209.6,704.0L1211.1,702.0L1212.7,700.1L1214.3,698.1L1215.8,696.1L1217.3,694.1L1218.8,692.1L1220.3,690.1L1221.8,688.1L1223.3,686.1L1224.8,684.1L1226.3,682.0L1227.8,680.0L1229.2,678.0L1230.7,675.9L1232.1,673.9L1233.6,671.8L1235.0,669.8L1236.4,667.7L1237.9,665.7L1239.3,663.6L1240.7,661.5L1242.1,659.4L1243.5,657.4L1244.8,655.3L1246.2,653.2L1247.6,651.1L1249.0,649.0L1250.3,646.9L1251.7,644.8L1253.0,642.7L1254.3,640.6L1255.7,638.4L1257.0,636.3L1258.3,634.2L1259.6,632.1L1261.0,629.9L1262.3,627.8L1263.5,625.6L1264.8,623.5L1266.1,621.4L1267.4,619.2L1268.7,617.0L1269.9,614.9L1271.2,612.7L1272.5,610.6L1273.7,608.4L1275.0,606.2L1276.2,604.0L1277.4,601.9L1278.7,599.7L1279.9,597.5L1281.1,595.3L1282.3,593.1L1283.5,590.9L1284.7,588.7L1285.9,586.5L1287.1,584.3L1288.3,582.1L1289.5,579.9L1290.7,577.7L1291.9,575.5L1293.0,573.3L1294.2,571.1L1295.4,568.9L1296.5,566.6L1297.7,564.4L1298.8,562.2L1300.0,560.0L1301.1,557.7L1302.3,555.5L1303.4,553.3L1304.5,551.0L1305.7,548.8L1306.8,546.5L1307.9,544.3L1309.0,542.1L1310.2,539.8L1311.3,537.6L1312.4,535.3L1313.5,533.1L1314.6,530.8L1315.7,528.6L1316.8,526.3L1317.9,524.0L1318.9,521.8L1320.0,519.5L1321.1,517.3L1322.2,515.0L1323.3,512.7L1324.3,510.5L1325.4,508.2L1326.5,505.9L1327.6,503.7L1328.6,501.4L1329.7,499.1L1330.7,496.9L1331.8,494.6L1332.9,492.3L1333.9,490.0L1335.0,487.8L1336.0,485.5L1337.1,483.2L1338.1,480.9L1339.1,478.7L1340.2,476.4L1341.2,474.1L1342.3,471.8L1343.3,469.5L1344.3,467.3L1345.4,465.0L1346.4,462.7L1347.4,460.4L1348.5,458.1L1349.5,455.9L1350.5,453.6L1351.6,451.3L1352.6,449.0L1353.6,446.7L1354.6,444.4L1355.7,442.1L1356.7,439.9L1357.7,437.6L1358.7,435.3L1359.8,433.0L1360.8,430.7L1361.8,428.4L1362.8,426.1L1363.8,423.9L1364.9,421.6L1365.9,419.3L1366.9,417.0L1367.9,414.7L1369.0,412.4L1370.0,410.1L1371.0,407.9L1372.0,405.6L1373.1,403.3L1374.1,401.0L1375.1,398.7L1376.1,396.4L1377.2,394.2L1378.2,391.9L1379.2,389.6L1380.2,387.3L1381.3,385.0L1382.3,382.7L1383.3,380.5L1384.4,378.2L1385.4,375.9L1386.4,373.6L1387.5,371.3L1388.5,369.1L1389.6,366.8L1390.6,364.5L1391.7,362.2L1392.7,360.0L1393.8,357.7L1394.8,355.4L1395.9,353.2L1396.9,350.9L1398.0,348.6L1399.0,346.3L1400.1,344.1L1401.2,341.8L1402.2,339.5L1403.3,337.3L1404.4,335.0L1405.4,332.8L1406.5,330.5L1407.6,328.2L1408.7,326.0L1409.8,323.7L1410.9,321.5L1412.0,319.2L1413.1,317.0L1414.2,314.7L1415.3,312.5L1416.4,310.3L1417.5,308.0L1418.6,305.8L1419.8,303.6L1420.9,301.3L1422.1,299.1L1423.2,296.9L1424.4,294.7L1425.5,292.5L1426.7,290.2L1427.9,288.0L1429.0,285.8L1430.2,283.6L1431.4,281.4L1432.6,279.2L1433.9,277.1L1435.1,274.9L1436.3,272.7L1437.6,270.5L1438.8,268.4L1440.1,266.2L1441.3,264.1L1442.6,261.9L1443.9,259.8L1445.2,257.6L1446.5,255.5L1447.8,253.4L1449.1,251.2L1450.5,249.1L1451.8,247.0L1453.2,244.9L1454.5,242.8L1455.9,240.7L1457.3,238.6L1458.7,236.6L1460.1,234.5L1461.6,232.4L1463.0,230.4L1464.5,228.3L1465.9,226.3L1467.4,224.3L1468.9,222.2L1470.4,220.2L1471.9,218.2L1473.5,216.2L1475.0,214.2L1476.6,212.2L1478.2,210.3L1479.8,208.3L1481.4,206.3L1483.0,204.4L1484.6,202.4L1486.3,200.5L1488.0,198.6L1489.6,196.7L1491.4,194.8L1493.1,193.0L1494.8,191.1L1496.6,189.3L1498.4,187.6L1500.3,185.9L1502.1,184.2L1504.0,182.5L1505.9,180.9L1507.9,179.3L1509.9,177.8L1511.9,176.4L1513.9,174.9L1516.0,173.6L1518.1,172.3L1520.3,171.1L1522.5,169.9L1524.8,168.8L1527.1,167.8L1529.4,166.8L1531.7,166.0L1534.1,165.2L1536.6,164.5L1539.0,163.9L1541.5,163.4L1544.0,163.0L1546.5,162.7L1549.0,162.5L1551.5,162.4L1554.0,162.5L1556.5,162.7L1559.0,162.9L1561.4,163.3L1563.9,163.8L1566.4,164.3L1568.8,165.0L1571.3,165.7L1573.7,166.5L1576.1,167.3L1578.5,168.2L1580.8,169.1L1583.1,170.0L1585.4,171.0L1587.7,172.0L1590.0,173.1L1592.2,174.2L1594.5,175.3L1596.7,176.4L1598.8,177.6L1601.0,178.8L1603.1,180.0L1605.3,181.3L1607.4,182.6L1609.4,183.9L1611.5,185.2L1613.6,186.6L1615.6,188.0L1617.6,189.4L1619.6,190.8L1621.6,192.3L1623.6,193.7L1625.6,195.2L1627.5,196.7L1629.4,198.3L1631.4,199.8L1633.3,201.4L1635.2,203.0L1637.1,204.6L1638.9,206.2L1640.8,207.9L1642.7,209.5L1644.5,211.2L1646.4,212.9L1648.2,214.5L1650.0,216.3L1651.8,218.0L1653.6,219.7L1655.4,221.4L1657.2,223.2L1659.0,224.9L1660.8,226.7L1662.6,228.5L1664.4,230.3L1666.1,232.0L1667.9,233.8L1669.7,235.6L1671.5,237.4L1673.2,239.2L1675.0,241.0L1676.8,242.8L1678.5,244.7L1680.3,246.5L1682.0,248.3L1683.8,250.1L1685.6,251.9L1687.4,253.7L1689.1,255.5L1690.9,257.3L1692.7,259.1L1694.5,260.9L1696.3,262.7L1698.0,264.5L1699.8,266.2L1701.7,268.0L1703.5,269.8L1705.3,271.5L1707.1,273.3L1708.9,275.0L1710.8,276.7L1712.6,278.4L1714.5,280.1L1716.4,281.8L1718.2,283.5L1720.1,285.2L1722.0,286.9L1723.9,288.5L1725.8,290.1L1727.7,291.8L1729.6,293.4L1731.6,295.0L1733.5,296.6L1735.4,298.2L1737.4,299.8L1739.3,301.4L1741.3,302.9L1743.3,304.5L1745.3,306.0L1747.2,307.6L1749.2,309.1L1751.2,310.6L1753.2,312.1L1755.2,313.6L1757.3,315.1L1759.3,316.6L1761.3,318.0L1763.4,319.5L1765.4,320.9L1767.5,322.4L1769.5,323.8L1771.6,325.2L1773.7,326.6L1775.7,328.0L1777.8,329.4L1779.9,330.8L1782.0,332.1L1784.1,333.5L1786.2,334.8L1788.3,336.2L1790.5,337.5L1792.6,338.8L1794.7,340.1L1796.9,341.4L1799.0,342.7L1801.1,344.0L1803.3,345.3L1805.5,346.5L1807.6,347.8L1809.8,349.0L1812.0,350.3L1814.2,351.5L1816.3,352.7L1818.5,353.9L1820.7,355.1L1822.9,356.3L1825.2,357.5L1827.4,358.6L1829.6,359.8L1831.8,360.9L1834.0,362.1L1836.3,363.2L1838.5,364.3L1840.8,365.4L1843.0,366.5L1845.3,367.6L1847.5,368.7L1849.8,369.8L1852.0,370.8L1854.3,371.9L1856.6,372.9L1858.9,374.0L1861.1,375.0L1863.4,376.0L1865.7,377.0L1868.0,378.0L1870.3,379.0L1872.6,380.0L1874.9,380.9L1877.2,381.9L1879.6,382.8L1881.9,383.8L1884.2,384.7L1886.5,385.6L1888.9,386.6L1891.2,387.5L1893.5,388.4L1895.9,389.2L1898.2,390.1L1900.6,391.0L1902.9,391.8L1905.3,392.7L1907.6,393.5L1910.0,394.4L1912.4,395.2L1914.7,396.0L1917.1,396.8L1919.5,397.6L1921.8,398.4L1924.2,399.2L1926.6,399.9L1929.0,400.7L1931.4,401.4L1933.8,402.2L1936.2,402.9L1938.6,403.6L1940.9,404.3L1943.3,405.0L1945.8,405.7L1948.2,406.4L1950.6,407.1L1953.0,407.8L1955.4,408.4L1957.8,409.1L1960.2,409.7L1962.6,410.4L1965.1,411.0L1967.5,411.6L1969.9,412.2L1972.3,412.8L1974.8,413.4L1977.2,414.0L1979.6,414.6L1982.1,415.2L1984.5,415.7L1986.9,416.3L1989.4,416.9L1991.8,417.4L1994.3,417.9L1996.7,418.5L1999.2,419.0L2001.6,419.5L2004.1,420.0L2006.5,420.5L2009.0,421.0L2011.4,421.5L2013.9,421.9L2016.4,422.4L2018.8,422.9L2021.3,423.3L2023.7,423.8L2026.2,424.2L2028.7,424.7L2031.1,425.1L2033.6,425.5L2036.1,425.9L2038.6,426.3L2041.0,426.7L2043.5,427.1L2046.0,427.5L2048.5,427.9L2050.9,428.3L2053.4,428.6L2055.9,429.0L2058.4,429.4L2060.9,429.7L2063.3,430.1L2065.8,430.4L2068.3,430.7L2070.8,431.1L2073.3,431.4L2075.8,431.7L2078.3,432.0L2080.7,432.3L2083.2,432.6L2085.7,432.9L2088.2,433.2L2090.7,433.5L2093.2,433.8L2095.7,434.1L2098.2,434.3L2100.7,434.6L2103.2,434.9L2105.7,435.1L2108.1,435.4L2110.6,435.6L2113.1,435.9L2115.6,436.1L2118.1,436.3L2120.6,436.6L2123.1,436.8L2125.6,437.0L2110.0,452.5L2107.9,453.8L2105.8,455.1L2103.7,456.4L2101.5,457.7L2099.3,458.9L2097.2,460.2L2095.0,461.4L2092.8,462.6L2090.6,463.7L2088.3,464.9L2086.1,466.0L2083.8,467.2L2081.6,468.2L2079.3,469.3L2077.0,470.4L2074.7,471.4L2072.4,472.4L2070.1,473.4L2067.7,474.3L2065.4,475.2L2063.0,476.1L2060.7,477.0L2058.3,477.9L2055.9,478.7L2053.6,479.4L2051.2,480.2L2048.8,480.9L2046.4,481.6L2043.9,482.3L2041.5,482.9L2039.1,483.5L2036.7,484.1L2034.2,484.7L2031.8,485.2L2029.3,485.8L2026.9,486.3L2024.4,486.8L2022.0,487.2L2019.5,487.7L2017.1,488.2L2014.6,488.6L2012.1,489.0L2009.7,489.5L2007.2,489.9L2004.7,490.3L2002.2,490.7L1999.8,491.2L1997.3,491.6L1994.8,492.0L1992.4,492.4L1989.9,492.9L1987.4,493.3L1985.0,493.7L1982.5,494.2L1980.0,494.6L1977.6,495.0L1975.1,495.5L1972.6,495.9L1970.2,496.3L1967.7,496.8L1965.2,497.2L1962.8,497.6L1960.3,498.1L1957.8,498.5L1955.4,498.9L1952.9,499.4L1950.4,499.8L1948.0,500.3L1945.5,500.7L1943.0,501.1L1940.6,501.6L1938.1,502.0L1935.6,502.4L1933.2,502.9L1930.7,503.3L1928.2,503.7L1925.8,504.2L1923.3,504.6L1920.8,505.0L1918.4,505.5L1915.9,505.9L1913.4,506.3L1911.0,506.7L1908.5,507.2L1906.0,507.6L1903.6,508.0L1901.1,508.4L1898.6,508.8L1896.1,509.3L1893.7,509.7L1891.2,510.1L1888.7,510.5L1886.3,510.9L1883.8,511.3L1881.3,511.7L1878.9,512.1L1876.4,512.5L1873.9,512.9L1871.4,513.3L1869.0,513.7L1866.5,514.1L1864.0,514.5L1861.5,514.8L1859.1,515.2L1856.6,515.6L1854.1,516.0L1851.6,516.3L1849.1,516.7L1846.7,517.1L1844.2,517.4L1841.7,517.8L1839.2,518.1L1836.7,518.5L1834.3,518.8L1831.8,519.2L1829.3,519.5L1826.8,519.9L1824.3,520.2L1821.8,520.5L1819.4,520.9L1816.9,521.2L1814.4,521.5L1811.9,521.9L1809.4,522.2L1806.9,522.5L1804.4,522.9L1802.0,523.2L1799.5,523.5L1797.0,523.8L1794.5,524.1L1792.0,524.5L1789.5,524.8L1787.0,525.1L1784.5,525.4L1782.1,525.7L1779.6,526.0L1777.1,526.4L1774.6,526.7L1772.1,527.0L1769.6,527.3L1767.1,527.6L1764.6,527.9L1762.1,528.2L1759.7,528.6L1757.2,528.9L1754.7,529.2L1752.2,529.5L1749.7,529.8L1747.2,530.1L1744.7,530.4L1742.2,530.7L1739.7,531.0L1737.3,531.4L1734.8,531.7L1732.3,532.0L1729.8,532.3L1727.3,532.6L1724.8,532.9L1722.3,533.3L1719.8,533.6L1717.4,533.9L1714.9,534.2L1712.4,534.5L1709.9,534.9L1707.4,535.2L1704.9,535.5L1702.4,535.8L1700.0,536.2L1697.5,536.5L1695.0,536.8L1692.5,537.2L1690.0,537.5L1687.5,537.9L1685.0,538.2L1682.6,538.5L1680.1,538.9L1677.6,539.2L1675.1,539.6L1672.6,539.9L1670.2,540.3L1667.7,540.7L1665.2,541.0L1662.7,541.4L1660.2,541.8L1657.8,542.1L1655.3,542.5L1652.8,542.9L1650.3,543.3L1647.9,543.6L1645.4,544.0L1642.9,544.4L1640.4,544.8L1638.0,545.2L1635.5,545.6L1633.0,546.0L1630.6,546.4L1628.1,546.8L1625.6,547.2L1623.1,547.7L1620.7,548.1L1618.2,548.5L1615.7,549.0L1613.3,549.4L1610.8,549.8L1608.4,550.3L1605.9,550.7L1603.4,551.2L1601.0,551.6L1598.5,552.1L1596.1,552.6L1593.6,553.1L1591.1,553.5L1588.7,554.0L1586.2,554.5L1583.8,555.0L1581.3,555.5L1578.9,556.0L1576.4,556.5L1574.0,557.0L1571.5,557.6L1569.1,558.1L1566.6,558.6L1564.2,559.2L1561.7,559.7L1559.3,560.3L1556.9,560.8L1554.4,561.4L1552.0,561.9L1549.5,562.5L1547.1,563.1L1544.7,563.7L1542.2,564.3L1539.8,564.9L1537.4,565.5L1534.9,566.1L1532.5,566.7L1530.1,567.4L1527.7,568.0L1525.2,568.7L1522.8,569.3L1520.4,570.0L1518.0,570.7L1515.6,571.4L1513.2,572.1L1510.8,572.8L1508.4,573.6L1506.0,574.3L1503.7,575.1L1501.3,575.9L1498.9,576.7L1496.6,577.5L1494.2,578.3L1491.9,579.2L1489.5,580.0L1487.2,580.9L1484.9,581.8L1482.6,582.8L1480.3,583.7L1478.0,584.7L1475.7,585.7L1473.4,586.7L1471.2,587.8L1468.9,588.8L1466.7,589.9L1464.4,591.0L1462.2,592.2L1460.0,593.4L1457.8,594.6L1455.6,595.8L1453.5,597.1L1451.3,598.3L1449.2,599.7L1447.0,601.0L1444.9,602.4L1442.8,603.8L1440.8,605.2L1438.7,606.7L1436.6,608.2L1434.6,609.7L1432.6,611.2L1430.6,612.8L1428.6,614.4L1426.6,616.0L1424.7,617.6L1422.8,619.3L1420.9,620.9L1419.0,622.6L1417.1,624.4L1415.3,626.1L1413.5,627.9L1411.7,629.6L1409.9,631.4L1408.1,633.2L1406.4,635.1L1404.7,636.9L1403.0,638.8L1401.4,640.6L1399.7,642.5L1398.1,644.4L1396.5,646.3L1394.9,648.3L1393.4,650.2L1391.8,652.2L1390.3,654.2L1388.8,656.1L1387.3,658.1L1385.8,660.1L1384.3,662.2L1382.9,664.2L1381.5,666.2L1380.1,668.3L1378.7,670.4L1377.3,672.4L1375.9,674.5L1374.6,676.6L1373.2,678.7L1371.9,680.8L1370.6,682.9L1369.2,685.0L1367.9,687.2L1366.7,689.3L1365.4,691.5L1364.1,693.6L1362.8,695.8L1361.6,697.9L1360.3,700.1L1359.1,702.3L1357.9,704.4L1356.6,706.6L1355.4,708.8L1354.2,711.0L1353.0,713.2L1351.8,715.4L1350.6,717.6L1349.4,719.8L1348.2,722.0L1347.0,724.2L1345.8,726.4L1344.6,728.6L1343.4,730.8L1342.3,733.0L1341.1,735.2L1339.9,737.4L1338.7,739.6L1337.6,741.8L1336.4,744.0L1335.3,746.2L1334.1,748.5L1332.9,750.7L1331.8,752.9L1330.6,755.1L1329.5,757.4L1328.4,759.6L1327.2,761.8L1326.1,764.0L1324.9,766.3L1323.8,768.5L1322.7,770.7L1321.6,773.0L1320.4,775.2L1319.3,777.5L1318.2,779.7L1317.1,781.9L1316.0,784.2L1314.9,786.4L1313.7,788.7L1312.6,790.9L1311.5,793.2L1310.4,795.4L1309.3,797.7L1308.2,799.9L1307.1,802.2L1306.0,804.4L1304.9,806.7L1303.8,808.9L1302.8,811.2L1301.7,813.5L1300.6,815.7L1299.5,818.0L1298.4,820.2L1297.3,822.5L1296.2,824.8L1295.2,827.0L1294.1,829.3L1293.0,831.5L1291.9,833.8L1290.9,836.1L1289.8,838.3L1288.7,840.6L1287.7,842.9L1286.6,845.1L1285.5,847.4L1284.5,849.7L1283.4,852.0L1282.3,854.2L1281.3,856.5L1280.2,858.8L1279.1,861.0L1278.1,863.3L1277.0,865.6L1275.9,867.9L1274.9,870.1L1273.8,872.4L1272.8,874.7L1271.7,876.9L1270.7,879.2L1269.6,881.5L1268.5,883.8L1267.5,886.0L1266.4,888.3L1265.4,890.6L1264.3,892.9L1263.3,895.1L1262.2,897.4L1261.2,899.7L1260.1,902.0L1259.0,904.2L1258.0,906.5L1256.9,908.8L1255.9,911.1L1254.8,913.3L1253.8,915.6L1252.7,917.9L1251.6,920.2L1250.6,922.4L1249.5,924.7L1248.5,927.0L1247.4,929.2L1246.3,931.5L1245.3,933.8L1244.2,936.0L1243.1,938.3L1242.1,940.6L1241.0,942.9L1239.9,945.1L1238.9,947.4L1237.8,949.6L1236.7,951.9L1235.6,954.2L1234.6,956.4L1233.5,958.7L1232.4,961.0L1231.3,963.2L1230.2,965.5L1229.1,967.7L1228.1,970.0L1227.0,972.3L1225.9,974.5L1224.8,976.8L1223.7,979.0L1222.6,981.3L1221.5,983.5L1220.4,985.8L1219.3,988.0L1218.2,990.3L1217.1,992.5L1215.9,994.7L1214.8,997.0L1213.7,999.2L1212.6,1001.5L1211.5,1003.7L1210.3,1005.9L1209.2,1008.2L1208.1,1010.4L1206.9,1012.6L1205.8,1014.9L1204.6,1017.1L1203.5,1019.3L1202.4,1021.5L1201.2,1023.7L1200.0,1026.0L1198.9,1028.2L1197.7,1030.4L1196.5,1032.6L1195.4,1034.8L1194.2,1037.0L1193.0,1039.2L1191.8,1041.4L1190.6,1043.6L1189.5,1045.9L1188.3,1048.0L1187.1,1050.2L1185.9,1052.4L1184.6,1054.6L1183.4,1056.8L1182.2,1059.0L1181.0,1061.2L1179.8,1063.4L1178.5,1065.6L1177.3,1067.7L1176.1,1069.9L1174.8,1072.1L1173.6,1074.2L1172.3,1076.4L1171.0,1078.6L1169.8,1080.7L1168.5,1082.9L1167.2,1085.0L1165.9,1087.2L1164.6,1089.3L1163.3,1091.4L1162.0,1093.6L1160.7,1095.7L1159.3,1097.8L1158.0,1099.9L1156.6,1101.9L1155.2,1104.0L1153.8,1106.0L1152.4,1108.1L1151.0,1110.1L1149.5,1112.1L1148.1,1114.1L1146.6,1116.1L1145.1,1118.1L1143.6,1120.1L1142.1,1122.0L1140.6,1124.0L1139.0,1125.9L1137.5,1127.9L1135.9,1129.8L1134.3,1131.7L1132.7,1133.6L1131.0,1135.5L1129.4,1137.3L1127.7,1139.2L1125.9,1141.0L1124.2,1142.8L1122.4,1144.6L1120.6,1146.3L1118.7,1148.0L1116.8,1149.7L1114.9,1151.3L1112.9,1152.9L1110.9,1154.4L1108.9,1155.9L1106.8,1157.3L1104.7,1158.7L1102.6,1160.0L1100.4,1161.2L1098.2,1162.3L1095.9,1163.4L1093.6,1164.4L1091.3,1165.3L1089.0,1166.2L1086.6,1167.0L1084.2,1167.7L1081.8,1168.3L1079.4,1168.9L1076.9,1169.4L1074.4,1169.8L1071.9,1170.2L1069.4,1170.5L1066.9,1170.7L1064.4,1170.8L1061.9,1170.9L1059.4,1170.9L1056.9,1170.9L1054.4,1170.8L1051.8,1170.6L1049.3,1170.4L1046.8,1170.1L1044.4,1169.7L1041.9,1169.3L1039.4,1168.8L1037.0,1168.2L1034.6,1167.6L1032.2,1166.9L1029.8,1166.2L1027.5,1165.4L1025.2,1164.6L1022.8,1163.7L1020.6,1162.7L1018.3,1161.7L1016.1,1160.7L1013.8,1159.6L1011.6,1158.4L1009.4,1157.3L1007.3,1156.0L1005.1,1154.8L1003.0,1153.5L1000.8,1152.2L998.7,1150.8L996.6,1149.4L994.6,1148.0L992.5,1146.6L990.4,1145.1L988.4,1143.6L986.3,1142.1L984.3,1140.6L982.3,1139.0L980.3,1137.5L978.3,1135.9L976.3,1134.3L974.3,1132.7L972.3,1131.1L970.4,1129.5L968.4,1127.9L966.4,1126.3L964.5,1124.7L962.5,1123.1L960.5,1121.5L958.6,1119.9L956.6,1118.4L954.7,1116.8L952.7,1115.2L950.8,1113.7L948.8,1112.2L946.9,1110.6L944.9,1109.1L943.0,1107.6L941.0,1106.1L939.1,1104.6L937.1,1103.1L935.1,1101.6L933.2,1100.1L931.2,1098.6L929.2,1097.1L927.3,1095.6L925.3,1094.1L923.3,1092.6L921.3,1091.1L919.4,1089.6L917.4,1088.0L915.4,1086.5L913.4,1085.0L911.4,1083.5L909.4,1082.0L907.4,1080.5L905.4,1078.9L903.4,1077.4L901.4,1075.9L899.4,1074.4L897.4,1072.9L895.4,1071.4L893.4,1069.9L891.4,1068.3L889.4,1066.9L887.3,1065.4L885.3,1063.9L883.3,1062.4L881.3,1060.9L879.2,1059.4L877.2,1058.0L875.2,1056.5L873.1,1055.0L871.1,1053.6L869.0,1052.1L867.0,1050.7L864.9,1049.2L862.9,1047.8L860.8,1046.4L858.7,1044.9L856.7,1043.5L854.6,1042.1L852.5,1040.7L850.5,1039.3L848.4,1037.9L846.3,1036.5L844.2,1035.1L842.1,1033.8L840.0,1032.4L837.9,1031.0L835.8,1029.7L833.7,1028.3L831.6,1027.0L829.5,1025.6L827.4,1024.3L825.3,1023.0L823.1,1021.7L821.0,1020.4L818.9,1019.1L816.7,1017.8L814.6,1016.5L812.4,1015.2L810.3,1013.9L808.1,1012.6L806.0,1011.4L803.8,1010.1L801.7,1008.9L799.5,1007.7L797.3,1006.4L795.1,1005.2L792.9,1004.0L790.7,1002.8L788.6,1001.6L786.4,1000.4L784.1,999.2L781.9,998.0L779.7,996.9L777.5,995.7L775.3,994.6L773.1,993.4L770.8,992.3L768.6,991.2L766.3,990.0L764.1,988.9L761.8,987.8L759.6,986.8L757.3,985.7L755.1,984.6L752.8,983.5L750.5,982.5L748.2,981.4L745.9,980.4L743.7,979.4L741.4,978.4L739.1,977.4L736.8,976.4L734.5,975.4L732.2,974.4L729.8,973.4L727.5,972.5L725.2,971.5L722.9,970.6L720.5,969.6L718.2,968.7L715.9,967.8L713.5,966.9L711.2,966.0L708.8,965.1L706.5,964.3L704.1,963.4L701.8,962.5L699.4,961.7L697.0,960.9L694.7,960.0L692.3,959.2L689.9,958.4L687.5,957.6L685.1,956.9L682.8,956.1L680.4,955.3L678.0,954.6L675.6,953.9L673.2,953.1L670.8,952.4L668.4,951.7L665.9,951.0L663.5,950.3L661.1,949.7L658.7,949.0L656.3,948.4L653.8,947.7L651.4,947.1L649.0,946.5L646.5,945.9L644.1,945.3L641.7,944.7L639.2,944.1L636.8,943.6L634.3,943.0L631.9,942.5L629.4,942.0L627.0,941.5L624.5,941.0L622.0,940.5L619.6,940.0L617.1,939.6L614.6,939.1L612.2,938.7L609.7,938.3L607.2,937.9L604.8,937.5L602.3,937.1L599.8,936.8L597.3,936.4L594.8,936.1L592.3,935.8L589.9,935.6L587.4,935.3L584.9,935.0L582.4,934.8L579.9,934.6L577.4,934.4L574.9,934.3L572.4,934.1L570.0,934.0L567.5,933.9L565.0,933.8L562.5,933.8L560.0,933.8L557.5,933.8L555.0,933.8L552.5,933.8L550.0,933.9L547.5,934.0L545.0,934.1L542.5,934.3L540.1,934.4L537.6,934.6L535.1,934.8L532.6,935.1L530.1,935.3L527.6,935.6L525.1,935.9L522.6,936.2L520.2,936.6L517.7,936.9L515.2,937.3L512.7,937.7L510.2,938.1L507.8,938.5L505.3,938.9L502.8,939.4L500.3,939.8L497.9,940.3L495.4,940.8L492.9,941.3L490.4,941.8L488.0,942.3L485.5,942.8L483.0,943.4L480.6,943.9L478.1,944.5L475.7,945.0L473.2,945.6L470.8,946.1L468.3,946.7L465.8,947.3L463.4,947.9L461.0,948.5L458.5,949.1L456.1,949.7L453.6,950.3L451.2,950.9L448.8,951.6L446.4,952.2L443.9,952.9L441.5,953.6L439.1,954.2L436.7,954.9L434.3,955.7L431.9,956.4L429.5,957.1L427.2,957.9L424.8,958.6L422.4,959.4L420.0,960.2L417.7,961.0L415.3,961.9L413.0,962.7L410.6,963.6L408.3,964.5L406.0,965.4L403.7,966.3L401.4,967.2L399.1,968.2L396.8,969.1L394.5,970.1L392.2,971.2L389.9,972.2L387.7,973.3L385.4,974.3L383.2,975.4L381.0,976.6L378.7,977.7L376.5,978.9L374.3,980.1L372.1,981.3L370.0,982.6L367.8,983.8L365.6,985.1L363.5,986.4L361.3,987.8L359.2,989.2L357.1,990.6L355.0,992.0Z" stroke="#0000ff"/>
<path d="M355.0,968.0L357.1,966.7L359.3,965.4L361.4,964.1L363.6,962.8L365.7,961.5L367.9,960.3L370.0,959.0L372.2,957.7L374.3,956.4L376.5,955.1L378.6,953.8L380.7,952.5L382.9,951.2L385.0,949.9L387.2,948.6L389.3,947.3L391.5,946.0L393.6,944.7L395.8,943.5L397.9,942.2L400.1,940.9L402.3,939.6L404.4,938.4L406.6,937.1L408.8,935.8L410.9,934.6L413.1,933.3L415.3,932.1L417.5,930.9L419.6,929.6L421.8,928.4L424.0,927.2L426.2,926.0L428.4,924.8L430.6,923.6L432.8,922.4L435.0,921.2L437.2,920.1L439.5,918.9L441.7,917.8L443.9,916.6L446.1,915.5L448.4,914.4L450.6,913.2L452.9,912.1L455.1,911.0L457.4,909.9L459.6,908.9L461.9,907.8L464.1,906.7L466.4,905.6L468.7,904.6L471.0,903.6L473.2,902.5L475.5,901.5L477.8,900.5L480.1,899.5L482.4,898.5L484.7,897.5L487.0,896.5L489.3,895.5L491.6,894.5L493.9,893.6L496.3,892.6L498.6,891.6L500.9,890.7L503.2,889.8L505.5,888.8L507.9,887.9L510.2,887.0L512.6,886.1L514.9,885.2L517.2,884.3L519.6,883.4L521.9,882.5L524.3,881.7L526.6,880.8L529.0,879.9L531.4,879.1L533.7,878.2L536.1,877.4L538.4,876.6L540.8,875.7L543.2,874.9L545.6,874.1L547.9,873.3L550.3,872.5L552.7,871.7L555.1,870.9L557.5,870.1L559.8,869.3L562.2,868.6L564.6,867.8L567.0,867.0L569.4,866.3L571.8,865.5L574.2,864.8L576.6,864.1L579.0,863.3L581.4,862.6L583.8,861.9L586.2,861.2L588.6,860.5L591.0,859.8L593.4,859.1L595.8,858.4L598.3,857.7L600.7,857.0L603.1,856.3L605.5,855.7L607.9,855.0L610.3,854.4L612.7,853.7L615.2,853.0L617.6,852.4L620.0,851.8L622.4,851.1L624.8,850.5L627.3,849.9L629.7,849.2L632.1,848.6L634.5,848.0L637.0,847.4L639.4,846.8L641.8,846.2L644.3,845.6L646.7,845.0L649.1,844.4L651.6,843.8L654.0,843.3L656.4,842.7L658.9,842.1L661.3,841.6L663.7,841.0L666.2,840.4L668.6,839.9L671.0,839.3L673.5,838.8L675.9,838.2L678.4,837.7L680.8,837.1L683.3,836.6L685.7,836.1L688.1,835.6L690.6,835.0L693.0,834.5L695.5,834.0L697.9,833.5L700.4,833.0L702.8,832.5L705.3,832.0L707.7,831.4L710.2,830.9L712.6,830.5L715.1,830.0L717.5,829.5L720.0,829.0L722.5,828.5L724.9,828.0L727.4,827.5L729.8,827.0L732.3,826.6L734.7,826.1L737.2,825.6L739.6,825.1L742.1,824.7L744.6,824.2L747.0,823.8L749.5,823.3L751.9,822.8L754.4,822.4L756.9,821.9L759.3,821.5L761.8,821.0L764.3,820.6L766.7,820.1L769.2,819.7L771.7,819.2L774.1,818.8L776.6,818.3L779.0,817.9L781.5,817.4L784.0,817.0L786.4,816.6L788.9,816.1L791.4,815.7L793.8,815.2L796.3,814.8L798.8,814.4L801.3,813.9L803.7,813.5L806.2,813.1L808.7,812.7L811.1,812.2L813.6,811.8L816.1,811.4L818.5,810.9L821.0,810.5L823.5,810.1L825.9,809.7L828.4,809.2L830.9,808.8L833.4,808.4L835.8,807.9L838.3,807.5L840.8,807.1L843.2,806.7L845.7,806.2L848.2,805.8L850.7,805.4L853.1,805.0L855.6,804.5L858.1,804.1L860.6,803.7L863.0,803.2L865.5,802.8L868.0,802.4L870.4,802.0L872.9,801.5L875.4,801.1L877.9,800.7L880.3,800.2L882.8,799.8L885.3,799.4L887.7,798.9L890.2,798.5L892.7,798.0L895.2,797.6L897.6,797.2L900.1,796.7L902.6,796.3L905.1,795.8L907.5,795.4L910.0,794.9L912.5,794.5L914.9,794.0L917.4,793.6L919.9,793.1L922.3,792.7L924.8,792.2L927.3,791.8L929.7,791.3L932.2,790.8L934.7,790.4L937.1,789.9L939.6,789.4L942.1,788.9L944.5,788.5L947.0,788.0L949.5,787.5L951.9,787.0L954.4,786.5L956.9,786.1L959.3,785.6L961.8,785.1L964.2,784.6L966.7,784.1L969.2,783.6L971.6,783.1L974.1,782.6L976.5,782.1L979.0,781.5L981.4,781.0L983.9,780.5L986.3,780.0L988.8,779.5L991.2,778.9L993.7,778.4L996.1,777.9L998.6,777.3L1001.0,776.8L1003.5,776.2L1005.9,775.7L1008.4,775.1L1010.8,774.6L1013.2,774.0L1015.7,773.4L1018.1,772.8L1020.6,772.3L1023.0,771.7L1025.4,771.1L1027.9,770.5L1030.3,769.9L1032.7,769.3L1035.2,768.7L1037.6,768.1L1040.0,767.5L1042.4,766.9L1044.9,766.3L1047.3,765.7L1049.7,765.0L1052.1,764.4L1054.5,763.8L1057.0,763.1L1059.4,762.5L1061.8,761.8L1064.2,761.2L1066.6,760.5L1069.0,759.8L1071.4,759.1L1073.8,758.5L1076.2,757.8L1078.6,757.1L1081.0,756.4L1083.4,755.7L1085.8,755.0L1088.2,754.3L1090.6,753.6L1093.0,752.8L1095.4,752.1L1097.8,751.4L1100.2,750.6L1102.6,749.9L1105.0,749.1L1107.3,748.4L1109.7,747.6L1112.1,746.8L1114.5,746.0L1116.8,745.3L1119.2,744.5L1121.6,743.7L1123.9,742.9L1126.3,742.1L1128.7,741.2L1131.0,740.4L1133.4,739.6L1135.8,738.7L1138.1,737.9L1140.5,737.0L1142.8,736.2L1145.2,735.3L1147.5,734.4L1149.8,733.6L1152.2,732.7L1154.5,731.8L1156.9,730.9L1159.2,730.0L1161.5,729.1L1163.9,728.1L1166.2,727.2L1168.5,726.3L1170.8,725.3L1173.1,724.3L1175.4,723.3L1177.7,722.4L1180.0,721.3L1182.3,720.3L1184.6,719.3L1186.8,718.2L1189.1,717.1L1191.3,716.0L1193.5,714.9L1195.8,713.7L1198.0,712.5L1200.2,711.3L1202.3,710.1L1204.5,708.8L1206.6,707.5L1208.8,706.2L1210.9,704.9L1213.0,703.5L1215.1,702.1L1217.2,700.7L1219.2,699.2L1221.3,697.8L1223.3,696.3L1225.3,694.8L1227.3,693.2L1229.3,691.7L1231.3,690.1L1233.3,688.5L1235.2,686.9L1237.2,685.3L1239.1,683.7L1241.0,682.1L1242.9,680.4L1244.8,678.8L1246.7,677.1L1248.6,675.5L1250.5,673.8L1252.3,672.1L1254.2,670.4L1256.1,668.7L1257.9,667.0L1259.7,665.3L1261.5,663.6L1263.3,661.8L1265.2,660.1L1266.9,658.4L1268.7,656.6L1270.5,654.8L1272.3,653.1L1274.0,651.3L1275.8,649.5L1277.5,647.7L1279.3,645.9L1281.0,644.1L1282.7,642.3L1284.4,640.5L1286.2,638.7L1287.9,636.8L1289.5,635.0L1291.2,633.2L1292.9,631.3L1294.6,629.5L1296.3,627.6L1297.9,625.7L1299.6,623.9L1301.2,622.0L1302.9,620.1L1304.5,618.2L1306.1,616.3L1307.8,614.4L1309.4,612.5L1311.0,610.6L1312.6,608.7L1314.2,606.8L1315.8,604.8L1317.4,602.9L1319.0,601.0L1320.6,599.0L1322.2,597.1L1323.7,595.2L1325.3,593.2L1326.9,591.3L1328.5,589.3L1330.0,587.3L1331.6,585.4L1333.1,583.4L1334.7,581.4L1336.2,579.4L1337.8,577.5L1339.3,575.5L1340.8,573.5L1342.4,571.5L1343.9,569.5L1345.4,567.5L1346.9,565.5L1348.4,563.5L1350.0,561.5L1351.5,559.5L1353.0,557.5L1354.5,555.5L1356.0,553.5L1357.5,551.4L1359.0,549.4L1360.5,547.4L1362.0,545.4L1363.5,543.4L1365.0,541.3L1366.4,539.3L1367.9,537.3L1369.4,535.2L1370.9,533.2L1372.4,531.2L1373.9,529.1L1375.3,527.1L1376.8,525.1L1378.3,523.0L1379.8,521.0L1381.2,518.9L1382.7,516.9L1384.2,514.9L1385.6,512.8L1387.1,510.8L1388.6,508.7L1390.0,506.7L1391.5,504.7L1392.9,502.6L1394.4,500.6L1395.9,498.5L1397.3,496.5L1398.8,494.5L1400.3,492.4L1401.7,490.4L1403.2,488.3L1404.6,486.3L1406.1,484.3L1407.6,482.2L1409.0,480.2L1410.5,478.2L1412.0,476.1L1413.4,474.1L1414.9,472.1L1416.3,470.0L1417.8,468.0L1419.3,466.0L1420.7,464.0L1422.2,461.9L1423.7,459.9L1425.1,457.9L1426.6,455.9L1428.1,453.9L1429.6,451.9L1431.1,449.8L1432.5,447.8L1434.0,445.8L1435.5,443.8L1437.0,441.8L1438.5,439.8L1440.0,437.8L1441.5,435.9L1443.0,433.9L1444.5,431.9L1446.0,429.9L1447.5,427.9L1449.0,425.9L1450.5,424.0L1452.0,422.0L1453.5,420.0L1455.1,418.1L1456.6,416.1L1458.1,414.2L1459.7,412.2L1461.2,410.2L1462.8,408.3L1464.3,406.4L1465.9,404.4L1467.5,402.5L1469.0,400.6L1470.6,398.6L1472.2,396.7L1473.8,394.8L1475.4,392.9L1477.0,391.0L1478.6,389.1L1480.2,387.2L1481.8,385.3L1483.5,383.4L1485.1,381.5L1486.8,379.6L1488.4,377.7L1490.1,375.8L1491.7,374.0L1493.4,372.1L1495.1,370.2L1496.8,368.4L1498.5,366.5L1500.2,364.7L1501.9,362.8L1503.6,361.0L1505.3,359.2L1507.1,357.4L1508.8,355.5L1510.6,353.7L1512.3,351.9L1514.1,350.1L1515.9,348.3L1517.7,346.5L1519.5,344.7L1521.3,343.0L1523.1,341.2L1525.0,339.4L1526.8,337.7L1528.7,335.9L1530.5,334.2L1532.4,332.5L1534.3,330.8L1536.2,329.1L1538.1,327.4L1540.0,325.7L1541.9,324.0L1543.8,322.4L1545.8,320.8L1547.8,319.1L1549.7,317.5L1551.7,316.0L1553.7,314.4L1555.7,312.8L1557.7,311.3L1559.7,309.8L1561.8,308.3L1563.8,306.8L1565.9,305.4L1567.9,304.0L1570.0,302.6L1572.1,301.2L1574.2,299.8L1576.3,298.5L1578.4,297.2L1580.6,295.9L1582.7,294.6L1584.9,293.4L1587.1,292.2L1589.3,291.0L1591.5,289.9L1593.7,288.7L1595.9,287.7L1598.1,286.6L1600.4,285.6L1602.6,284.6L1604.9,283.6L1607.2,282.7L1609.5,281.8L1611.8,280.9L1614.1,280.1L1616.5,279.3L1618.8,278.5L1621.2,277.8L1623.5,277.1L1625.9,276.5L1628.3,275.9L1630.7,275.3L1633.2,274.8L1635.6,274.3L1638.1,273.9L1640.5,273.4L1643.0,273.1L1645.5,272.7L1647.9,272.4L1650.4,272.1L1652.9,271.9L1655.4,271.7L1657.9,271.6L1660.4,271.4L1662.9,271.4L1665.5,271.3L1668.0,271.3L1670.5,271.3L1673.0,271.4L1675.5,271.5L1678.1,271.6L1680.6,271.7L1683.1,271.9L1685.6,272.2L1688.1,272.4L1690.6,272.7L1693.1,273.1L1695.6,273.4L1698.1,273.8L1700.6,274.3L1703.1,274.8L1705.5,275.3L1708.0,275.8L1710.4,276.4L1712.9,277.0L1715.3,277.6L1717.7,278.3L1720.1,279.0L1722.5,279.7L1724.9,280.4L1727.3,281.2L1729.7,282.0L1732.0,282.9L1734.4,283.7L1736.7,284.6L1739.0,285.5L1741.4,286.5L1743.7,287.4L1746.0,288.4L1748.3,289.4L1750.6,290.4L1752.9,291.4L1755.1,292.5L1757.4,293.5L1759.7,294.6L1761.9,295.7L1764.2,296.8L1766.4,298.0L1768.6,299.1L1770.9,300.3L1773.1,301.4L1775.3,302.6L1777.5,303.8L1779.7,305.0L1781.9,306.2L1784.1,307.4L1786.3,308.6L1788.4,309.8L1790.6,311.0L1792.8,312.2L1795.0,313.4L1797.1,314.7L1799.3,315.9L1801.5,317.1L1803.6,318.4L1805.8,319.6L1808.0,320.8L1810.1,322.0L1812.3,323.2L1814.5,324.4L1816.7,325.6L1818.9,326.8L1821.1,328.0L1823.3,329.2L1825.5,330.4L1827.7,331.5L1829.9,332.7L1832.1,333.8L1834.3,335.0L1836.5,336.1L1838.8,337.2L1841.0,338.4L1843.2,339.5L1845.5,340.6L1847.7,341.7L1849.9,342.8L1852.2,344.0L1854.4,345.1L1856.7,346.2L1858.9,347.3L1861.2,348.4L1863.4,349.5L1865.7,350.6L1867.9,351.7L1870.2,352.8L1872.4,353.9L1874.7,355.0L1876.9,356.2L1879.2,357.3L1881.4,358.4L1883.7,359.5L1885.9,360.6L1888.2,361.7L1890.4,362.8L1892.7,363.9L1895.0,365.0L1897.2,366.1L1899.5,367.2L1901.8,368.2L1904.0,369.3L1906.3,370.4L1908.6,371.5L1910.8,372.5L1913.1,373.6L1915.4,374.7L1917.7,375.7L1920.0,376.8L1922.3,377.8L1924.5,378.8L1926.8,379.9L1929.1,380.9L1931.4,381.9L1933.7,382.9L1936.0,383.9L1938.3,384.9L1940.6,385.8L1943.0,386.8L1945.3,387.8L1947.6,388.7L1949.9,389.6L1952.2,390.6L1954.6,391.5L1956.9,392.4L1959.2,393.3L1961.6,394.1L1963.9,395.0L1966.3,395.9L1968.6,396.7L1971.0,397.5L1973.4,398.4L1975.7,399.2L1978.1,400.0L1980.5,400.8L1982.8,401.6L1985.2,402.3L1987.6,403.1L1990.0,403.8L1992.4,404.6L1994.8,405.3L1997.2,406.0L1999.6,406.8L2002.0,407.5L2004.4,408.2L2006.8,408.9L2009.2,409.5L2011.6,410.2L2014.0,410.9L2016.4,411.5L2018.8,412.2L2021.2,412.9L2023.7,413.5L2026.1,414.1L2028.5,414.8L2030.9,415.4L2033.3,416.0L2035.8,416.6L2038.2,417.3L2040.6,417.9L2043.1,418.5L2045.5,419.1L2047.9,419.7L2050.4,420.2L2052.8,420.8L2055.3,421.4L2057.7,422.0L2060.1,422.6L2062.6,423.2L2065.0,423.7L2067.5,424.3L2069.9,424.9L2072.3,425.4L2074.8,426.0L2077.2,426.6L2079.7,427.1L2082.1,427.7L2084.6,428.3L2087.0,428.8L2089.4,429.4L2091.9,430.0L2094.3,430.5L2096.8,431.1L2099.2,431.7L2101.6,432.2L2104.1,432.8L2106.5,433.4L2109.0,433.9L2111.4,434.5L2113.8,435.1L2116.3,435.7L2118.7,436.2L2121.1,436.8L2123.6,437.4L2126.0,438.0L2122.8,444.2L2120.8,445.7L2118.7,447.2L2116.6,448.7L2114.5,450.1L2112.4,451.5L2110.3,452.8L2108.2,454.1L2106.0,455.3L2103.8,456.6L2101.6,457.8L2099.4,458.9L2097.2,460.0L2095.0,461.1L2092.7,462.2L2090.5,463.2L2088.2,464.2L2085.9,465.2L2083.6,466.2L2081.3,467.1L2079.0,468.0L2076.7,468.9L2074.4,469.8L2072.0,470.6L2069.7,471.4L2067.3,472.2L2064.9,473.0L2062.6,473.8L2060.2,474.5L2057.8,475.3L2055.4,476.0L2053.0,476.7L2050.6,477.4L2048.2,478.1L2045.8,478.8L2043.3,479.4L2040.9,480.1L2038.5,480.7L2036.1,481.4L2033.6,482.0L2031.2,482.7L2028.8,483.3L2026.3,483.9L2023.9,484.6L2021.5,485.2L2019.0,485.9L2016.6,486.5L2014.2,487.1L2011.8,487.8L2009.3,488.4L2006.9,489.1L2004.5,489.7L2002.1,490.4L1999.6,491.0L1997.2,491.7L1994.8,492.3L1992.4,493.0L1989.9,493.6L1987.5,494.3L1985.1,494.9L1982.7,495.6L1980.2,496.2L1977.8,496.9L1975.4,497.5L1973.0,498.2L1970.6,498.8L1968.1,499.5L1965.7,500.1L1963.3,500.8L1960.9,501.4L1958.5,502.1L1956.0,502.7L1953.6,503.3L1951.2,504.0L1948.8,504.6L1946.4,505.3L1943.9,505.9L1941.5,506.5L1939.1,507.1L1936.7,507.8L1934.3,508.4L1931.8,509.0L1929.4,509.6L1927.0,510.2L1924.6,510.8L1922.1,511.4L1919.7,512.0L1917.3,512.6L1914.9,513.2L1912.4,513.8L1910.0,514.4L1907.6,514.9L1905.1,515.5L1902.7,516.1L1900.3,516.6L1897.8,517.2L1895.4,517.7L1893.0,518.3L1890.5,518.8L1888.1,519.3L1885.6,519.9L1883.2,520.4L1880.8,520.9L1878.3,521.4L1875.9,521.9L1873.4,522.4L1871.0,522.9L1868.5,523.3L1866.1,523.8L1863.6,524.3L1861.1,524.7L1858.7,525.2L1856.2,525.6L1853.8,526.1L1851.3,526.5L1848.8,526.9L1846.4,527.3L1843.9,527.7L1841.4,528.1L1839.0,528.5L1836.5,528.9L1834.0,529.3L1831.5,529.7L1829.1,530.1L1826.6,530.4L1824.1,530.8L1821.6,531.2L1819.2,531.5L1816.7,531.9L1814.2,532.3L1811.7,532.6L1809.2,532.9L1806.8,533.3L1804.3,533.6L1801.8,534.0L1799.3,534.3L1796.8,534.6L1794.3,535.0L1791.8,535.3L1789.4,535.6L1786.9,536.0L1784.4,536.3L1781.9,536.6L1779.4,536.9L1776.9,537.3L1774.4,537.6L1772.0,537.9L1769.5,538.2L1767.0,538.6L1764.5,538.9L1762.0,539.2L1759.5,539.5L1757.0,539.9L1754.5,540.2L1752.1,540.5L1749.6,540.8L1747.1,541.2L1744.6,541.5L1742.1,541.8L1739.6,542.2L1737.2,542.5L1734.7,542.9L1732.2,543.2L1729.7,543.6L1727.2,543.9L1724.8,544.3L1722.3,544.6L1719.8,545.0L1717.3,545.4L1714.9,545.7L1712.4,546.1L1709.9,546.5L1707.4,546.9L1705.0,547.3L1702.5,547.7L1700.0,548.1L1697.6,548.5L1695.1,548.9L1692.6,549.3L1690.2,549.7L1687.7,550.2L1685.3,550.6L1682.8,551.0L1680.3,551.5L1677.9,551.9L1675.4,552.4L1673.0,552.8L1670.5,553.3L1668.1,553.7L1665.6,554.2L1663.2,554.7L1660.7,555.2L1658.3,555.6L1655.8,556.1L1653.4,556.6L1650.9,557.1L1648.5,557.6L1646.0,558.1L1643.6,558.6L1641.1,559.1L1638.7,559.7L1636.3,560.2L1633.8,560.7L1631.4,561.2L1628.9,561.8L1626.5,562.3L1624.1,562.9L1621.6,563.4L1619.2,564.0L1616.8,564.5L1614.3,565.1L1611.9,565.7L1609.5,566.3L1607.0,566.8L1604.6,567.4L1602.2,568.0L1599.7,568.6L1597.3,569.2L1594.9,569.8L1592.5,570.4L1590.0,571.0L1587.6,571.7L1585.2,572.3L1582.8,572.9L1580.3,573.5L1577.9,574.2L1575.5,574.8L1573.1,575.5L1570.7,576.1L1568.3,576.8L1565.8,577.4L1563.4,578.1L1561.0,578.8L1558.6,579.4L1556.2,580.1L1553.8,580.8L1551.3,581.5L1548.9,582.2L1546.5,582.9L1544.1,583.6L1541.7,584.3L1539.3,585.0L1536.9,585.7L1534.5,586.4L1532.0,587.2L1529.6,587.9L1527.2,588.6L1524.8,589.4L1522.4,590.1L1520.0,590.9L1517.6,591.6L1515.2,592.4L1512.8,593.1L1510.4,593.9L1508.0,594.7L1505.6,595.5L1503.2,596.3L1500.8,597.1L1498.4,597.9L1496.0,598.7L1493.7,599.5L1491.3,600.4L1488.9,601.2L1486.5,602.1L1484.2,602.9L1481.8,603.8L1479.5,604.7L1477.1,605.6L1474.8,606.5L1472.5,607.4L1470.1,608.4L1467.8,609.3L1465.5,610.3L1463.2,611.2L1460.9,612.2L1458.6,613.2L1456.3,614.3L1454.1,615.3L1451.8,616.3L1449.5,617.4L1447.3,618.5L1445.1,619.6L1442.9,620.7L1440.6,621.9L1438.4,623.0L1436.3,624.2L1434.1,625.4L1431.9,626.6L1429.8,627.8L1427.6,629.1L1425.5,630.3L1423.4,631.6L1421.3,633.0L1419.2,634.3L1417.1,635.6L1415.1,637.0L1413.0,638.4L1411.0,639.9L1409.0,641.3L1407.0,642.8L1405.0,644.3L1403.0,645.8L1401.1,647.3L1399.2,648.9L1397.2,650.5L1395.3,652.1L1393.4,653.7L1391.5,655.4L1389.7,657.0L1387.8,658.7L1386.0,660.4L1384.1,662.1L1382.3,663.9L1380.5,665.6L1378.7,667.3L1376.9,669.1L1375.1,670.9L1373.4,672.7L1371.6,674.5L1369.8,676.3L1368.1,678.1L1366.4,680.0L1364.6,681.8L1362.9,683.7L1361.2,685.5L1359.5,687.4L1357.8,689.3L1356.1,691.1L1354.4,693.0L1352.7,694.9L1351.0,696.8L1349.4,698.6L1347.7,700.5L1346.0,702.4L1344.4,704.3L1342.7,706.2L1341.1,708.1L1339.4,710.0L1337.8,711.9L1336.1,713.8L1334.5,715.7L1332.9,717.6L1331.2,719.5L1329.6,721.4L1328.0,723.3L1326.4,725.2L1324.8,727.1L1323.2,729.0L1321.6,731.0L1320.0,732.9L1318.4,734.8L1316.8,736.7L1315.2,738.7L1313.6,740.6L1312.1,742.5L1310.5,744.5L1308.9,746.4L1307.4,748.3L1305.8,750.3L1304.3,752.2L1302.7,754.2L1301.2,756.1L1299.6,758.1L1298.1,760.0L1296.6,762.0L1295.0,764.0L1293.5,766.0L1292.0,767.9L1290.5,769.9L1289.0,771.9L1287.5,773.9L1286.0,775.9L1284.5,777.9L1283.0,779.9L1281.5,781.9L1280.0,783.9L1278.6,785.9L1277.1,787.9L1275.6,789.9L1274.2,791.9L1272.7,793.9L1271.3,796.0L1269.8,798.0L1268.4,800.0L1266.9,802.1L1265.5,804.1L1264.0,806.2L1262.6,808.2L1261.1,810.2L1259.7,812.3L1258.3,814.3L1256.8,816.4L1255.4,818.4L1254.0,820.5L1252.6,822.6L1251.1,824.6L1249.7,826.7L1248.3,828.7L1246.9,830.8L1245.4,832.9L1244.0,834.9L1242.6,837.0L1241.2,839.0L1239.7,841.1L1238.3,843.2L1236.9,845.2L1235.5,847.3L1234.0,849.3L1232.6,851.4L1231.2,853.4L1229.7,855.5L1228.3,857.6L1226.9,859.6L1225.4,861.7L1224.0,863.7L1222.6,865.8L1221.1,867.8L1219.7,869.9L1218.2,871.9L1216.7,873.9L1215.3,876.0L1213.8,878.0L1212.4,880.0L1210.9,882.1L1209.4,884.1L1207.9,886.1L1206.5,888.1L1205.0,890.2L1203.5,892.2L1202.0,894.2L1200.5,896.2L1199.0,898.2L1197.4,900.2L1195.9,902.2L1194.4,904.1L1192.9,906.1L1191.3,908.1L1189.8,910.1L1188.2,912.0L1186.7,914.0L1185.1,916.0L1183.6,917.9L1182.0,919.9L1180.4,921.8L1178.8,923.8L1177.2,925.7L1175.7,927.6L1174.1,929.6L1172.5,931.5L1170.9,933.4L1169.2,935.3L1167.6,937.2L1166.0,939.1L1164.4,941.0L1162.7,942.9L1161.1,944.8L1159.5,946.7L1157.8,948.6L1156.1,950.5L1154.5,952.3L1152.8,954.2L1151.2,956.1L1149.5,957.9L1147.8,959.8L1146.1,961.6L1144.4,963.5L1142.7,965.3L1141.0,967.2L1139.3,969.0L1137.6,970.8L1135.9,972.7L1134.2,974.5L1132.5,976.3L1130.7,978.1L1129.0,979.9L1127.3,981.7L1125.5,983.5L1123.8,985.3L1122.0,987.1L1120.2,988.8L1118.5,990.6L1116.7,992.3L1114.9,994.1L1113.1,995.8L1111.3,997.6L1109.5,999.3L1107.7,1001.0L1105.8,1002.7L1104.0,1004.4L1102.2,1006.0L1100.3,1007.7L1098.4,1009.3L1096.5,1010.9L1094.6,1012.6L1092.7,1014.1L1090.8,1015.7L1088.8,1017.3L1086.9,1018.8L1084.9,1020.3L1082.9,1021.8L1080.9,1023.3L1078.9,1024.8L1076.9,1026.2L1074.9,1027.6L1072.8,1029.1L1070.7,1030.4L1068.6,1031.8L1066.5,1033.1L1064.4,1034.5L1062.3,1035.8L1060.2,1037.1L1058.0,1038.3L1055.8,1039.6L1053.7,1040.8L1051.5,1042.0L1049.3,1043.2L1047.0,1044.3L1044.8,1045.5L1042.6,1046.6L1040.3,1047.7L1038.0,1048.8L1035.7,1049.8L1033.5,1050.8L1031.2,1051.8L1028.8,1052.8L1026.5,1053.8L1024.2,1054.7L1021.8,1055.6L1019.5,1056.4L1017.1,1057.3L1014.7,1058.1L1012.3,1058.9L1010.0,1059.6L1007.5,1060.3L1005.1,1061.0L1002.7,1061.7L1000.3,1062.3L997.8,1062.9L995.4,1063.5L992.9,1064.0L990.5,1064.5L988.0,1064.9L985.6,1065.4L983.1,1065.8L980.6,1066.1L978.1,1066.5L975.6,1066.8L973.1,1067.0L970.6,1067.3L968.1,1067.5L965.6,1067.7L963.1,1067.8L960.6,1067.9L958.1,1068.0L955.6,1068.1L953.1,1068.1L950.6,1068.1L948.1,1068.0L945.6,1068.0L943.1,1067.9L940.6,1067.8L938.1,1067.6L935.6,1067.4L933.1,1067.2L930.6,1066.9L928.1,1066.7L925.7,1066.4L923.2,1066.0L920.7,1065.7L918.3,1065.3L915.8,1064.8L913.3,1064.4L910.9,1063.9L908.5,1063.4L906.0,1062.9L903.6,1062.3L901.2,1061.7L898.8,1061.1L896.4,1060.4L894.0,1059.7L891.6,1059.0L889.2,1058.3L886.9,1057.6L884.5,1056.8L882.1,1056.0L879.8,1055.2L877.4,1054.4L875.1,1053.5L872.8,1052.7L870.4,1051.8L868.1,1050.9L865.8,1050.0L863.4,1049.0L861.1,1048.1L858.8,1047.1L856.5,1046.2L854.2,1045.2L851.9,1044.2L849.6,1043.2L847.3,1042.1L845.0,1041.1L842.7,1040.1L840.5,1039.0L838.2,1038.0L835.9,1036.9L833.6,1035.9L831.3,1034.8L829.1,1033.7L826.8,1032.6L824.5,1031.6L822.2,1030.5L820.0,1029.4L817.7,1028.3L815.4,1027.2L813.2,1026.1L810.9,1025.0L808.6,1024.0L806.4,1022.9L804.1,1021.8L801.8,1020.7L799.6,1019.6L797.3,1018.5L795.1,1017.4L792.8,1016.3L790.5,1015.3L788.3,1014.2L786.0,1013.1L783.7,1012.0L781.5,1010.9L779.2,1009.8L776.9,1008.8L774.7,1007.7L772.4,1006.6L770.2,1005.5L767.9,1004.5L765.6,1003.4L763.4,1002.3L761.1,1001.2L758.8,1000.2L756.6,999.1L754.3,998.1L752.0,997.0L749.7,995.9L747.5,994.9L745.2,993.8L742.9,992.8L740.6,991.8L738.4,990.7L736.1,989.7L733.8,988.7L731.5,987.6L729.2,986.6L727.0,985.6L724.7,984.6L722.4,983.6L720.1,982.6L717.8,981.6L715.5,980.6L713.2,979.6L710.9,978.6L708.6,977.6L706.3,976.7L704.0,975.7L701.7,974.7L699.4,973.8L697.1,972.8L694.8,971.9L692.5,971.0L690.2,970.0L687.8,969.1L685.5,968.2L683.2,967.3L680.9,966.4L678.5,965.5L676.2,964.6L673.9,963.7L671.5,962.8L669.2,962.0L666.8,961.1L664.5,960.3L662.1,959.4L659.8,958.6L657.4,957.8L655.1,956.9L652.7,956.1L650.3,955.3L647.9,954.5L645.6,953.8L643.2,953.0L640.8,952.2L638.4,951.5L636.0,950.7L633.6,950.0L631.2,949.3L628.8,948.5L626.4,947.8L624.0,947.1L621.6,946.4L619.2,945.8L616.7,945.1L614.3,944.5L611.9,943.8L609.5,943.2L607.0,942.6L604.6,942.0L602.1,941.4L599.7,940.8L597.2,940.2L594.8,939.7L592.3,939.1L589.9,938.6L587.4,938.1L585.0,937.6L582.5,937.1L580.0,936.7L577.6,936.2L575.1,935.8L572.6,935.4L570.2,935.0L567.7,934.6L565.2,934.2L562.7,933.9L560.2,933.5L557.8,933.2L555.3,932.9L552.8,932.7L550.3,932.4L547.8,932.2L545.3,931.9L542.9,931.7L540.4,931.5L537.9,931.4L535.4,931.2L532.9,931.1L530.4,931.0L528.0,930.9L525.5,930.9L523.0,930.8L520.5,930.8L518.0,930.8L515.5,930.8L513.0,930.9L510.6,931.0L508.1,931.1L505.6,931.2L503.1,931.3L500.6,931.5L498.2,931.7L495.7,931.9L493.2,932.1L490.7,932.4L488.3,932.7L485.8,933.0L483.3,933.4L480.9,933.7L478.4,934.1L476.0,934.5L473.5,935.0L471.0,935.5L468.6,936.0L466.1,936.5L463.7,937.0L461.2,937.6L458.8,938.2L456.4,938.8L453.9,939.4L451.5,940.0L449.0,940.7L446.6,941.3L444.2,942.0L441.7,942.7L439.3,943.4L436.9,944.1L434.5,944.9L432.0,945.6L429.6,946.4L427.2,947.1L424.8,947.9L422.3,948.6L419.9,949.4L417.5,950.2L415.1,950.9L412.7,951.7L410.3,952.5L407.9,953.3L405.4,954.0L403.0,954.8L400.6,955.6L398.2,956.3L395.8,957.1L393.4,957.8L391.0,958.6L388.6,959.3L386.2,960.0L383.8,960.7L381.4,961.4L379.0,962.1L376.6,962.8L374.2,963.4L371.8,964.1L369.4,964.7L367.0,965.3L364.6,965.9L362.2,966.4L359.8,967.0L357.4,967.5L355.0,968.0Z" stroke="#000000"/>
</g>
<g fill="#000">
<rect x="354" y="50" width="1785" height="10"/>
<rect x="2133" y="54" width="11" height="1329"/>
<rect x="349" y="53" width="10" height="1330"/>
<rect x="354" y="1377" width="1785" height="10"/>
<rect x="341" y="1330.29" width="8" height="10"/>
<rect x="328" y="1254.95" width="21" height="10.5"/>
<rect x="341" y="1180.11" width="8" height="10"/>
<rect x="328" y="1104.78" width="21" height="10.5"/>
<rect x="341" y="1029.94" width="8" height="10"/>
<rect x="328" y="954.60" width="21" height="10.5"/>
<rect x="341" y="879.76" width="8" height="10"/>
<rect x="328" y="804.42" width="21" height="10.5"/>
<rect x="341" y="729.59" width="8" height="10"/>
<rect x="328" y="654.25" width="21" height="10.5"/>
<rect x="341" y="579.41" width="8" height="10"/>
<rect x="328" y="504.08" width="21" height="10.5"/>
<rect x="341" y="429.24" width="8" height="10"/>
<rect x="328" y="353.90" width="21" height="10.5"/>
<rect x="341" y="279.06" width="8" height="10"/>
<rect x="328" y="203.73" width="21" height="10.5"/>
<rect x="341" y="128.89" width="8" height="10"/>
<rect x="328" y="53.55" width="21" height="10.5"/>
<rect x="449.94" y="1387" width="11" height="21"/>
<rect x="569.50" y="1387" width="10.6" height="8"/>
<rect x="688.66" y="1387" width="11" height="21"/>
<rect x="808.22" y="1387" width="10.6" height="8"/>
<rect x="927.38" y="1387" width="11" height="21"/>
<rect x="1046.94" y="1387" width="10.6" height="8"/>
<rect x="1166.10" y="1387" width="11" height="21"/>
<rect x="1285.66" y="1387" width="10.6" height="8"/>
<rect x="1404.82" y="1387" width="11" height="21"/>
<rect x="1524.38" y="1387" width="10.6" height="8"/>
<rect x="1643.54" y="1387" width="11" height="21"/>
<rect x="1763.10" y="1387" width="10.6" height="8"/>
<rect x="1882.26" y="1387" width="11" height="21"/>
<rect x="2001.82" y="1387" width="10.6" height="8"/>
<rect x="2120.98" y="1387" width="11" height="21"/>
</g>
<g font-family="Liberation Serif, 'Times New Roman', serif" font-weight="bold" font-size="70" fill="#000">
<text transform="translate(310.8,1278.9) scale(0.984,1.024)" text-anchor="end">-200</text>
<text transform="translate(310.8,1128.7) scale(0.984,1.024)" text-anchor="end">-150</text>
<text transform="translate(310.8,978.5) scale(0.984,1.024)" text-anchor="end">-100</text>
<text transform="translate(310.8,828.4) scale(0.984,1.024)" text-anchor="end">-50</text>
<text transform="translate(310.8,678.2) scale(0.984,1.024)" text-anchor="end">0</text>
<text transform="translate(310.8,528.0) scale(0.984,1.024)" text-anchor="end">50</text>
<text transform="translate(310.8,377.9) scale(0.984,1.024)" text-anchor="end">100</text>
<text transform="translate(310.8,227.7) scale(0.984,1.024)" text-anchor="end">150</text>
<text transform="translate(310.8,77.5) scale(0.984,1.024)" text-anchor="end">200</text>
<text transform="translate(454.4,1477.3) scale(0.977,1.024)" text-anchor="middle">-0.6</text>
<text transform="translate(693.2,1477.3) scale(0.977,1.024)" text-anchor="middle">-0.4</text>
<text transform="translate(931.9,1477.3) scale(0.977,1.024)" text-anchor="middle">-0.2</text>
<text transform="translate(1170.6,1477.3) scale(0.977,1.024)" text-anchor="middle">0.0</text>
<text transform="translate(1409.3,1477.3) scale(0.977,1.024)" text-anchor="middle">0.2</text>
<text transform="translate(1648.0,1477.3) scale(0.977,1.024)" text-anchor="middle">0.4</text>
<text transform="translate(1886.8,1477.3) scale(0.977,1.024)" text-anchor="middle">0.6</text>
<text transform="translate(2125.5,1477.3) scale(0.977,1.024)" text-anchor="middle">0.8</text>
</g>
<text font-family="Liberation Serif, 'Times New Roman', serif" font-weight="bold" font-size="80" transform="translate(1367.5,1612.8) scale(0.997,0.97)" text-anchor="middle">E/V (vs. Ag/AgCl)</text>
<text font-family="Liberation Serif, 'Times New Roman', serif" font-weight="bold" font-size="80" transform="translate(81.7,724) rotate(-90) scale(1.018,0.971)" text-anchor="middle">Current (uA)</text>
<rect x="445" y="176" width="167" height="8" fill="#000000"/>
<text font-family="Liberation Serif, 'Times New Roman', serif" font-weight="bold" font-size="74" x="651.3" y="205">bare</text>
<rect x="445" y="271" width="167" height="8" fill="#008000"/>
<text font-family="Liberation Serif, 'Times New Roman', serif" font-weight="bold" font-size="74" x="628" y="299">2µL</text>
<rect x="445" y="365" width="167" height="8" fill="#ff0000"/>
<text font-family="Liberation Serif, 'Times New Roman', serif" font-weight="bold" font-size="74" x="628" y="393">4µL</text>
<rect x="445" y="460" width="167" height="8" fill="#0000ff"/>
<text font-family="Liberation Serif, 'Times New Roman', serif" font-weight="bold" font-size="74" x="628" y="488">6µL</text>
<text font-family="Liberation Serif, 'Times New Roman', serif" font-weight="bold" font-size="62" x="428.8" y="1329">RRAuNPs/SPCE</text>
<text font-family="Liberation Serif, 'Times New Roman', serif" font-weight="bold" font-size="62" y="1332.9"><tspan x="1537.3">10.0 mM</tspan><tspan x="1789.9">K</tspan><tspan x="1836" y="1358" font-size="37">4</tspan><tspan x="1856.6" y="1332.9">[Fe(CN)</tspan><tspan x="2072.5" y="1358" font-size="37">6</tspan><tspan x="2090.3" y="1332.9">]</tspan></text>
</svg>
</body></html>
